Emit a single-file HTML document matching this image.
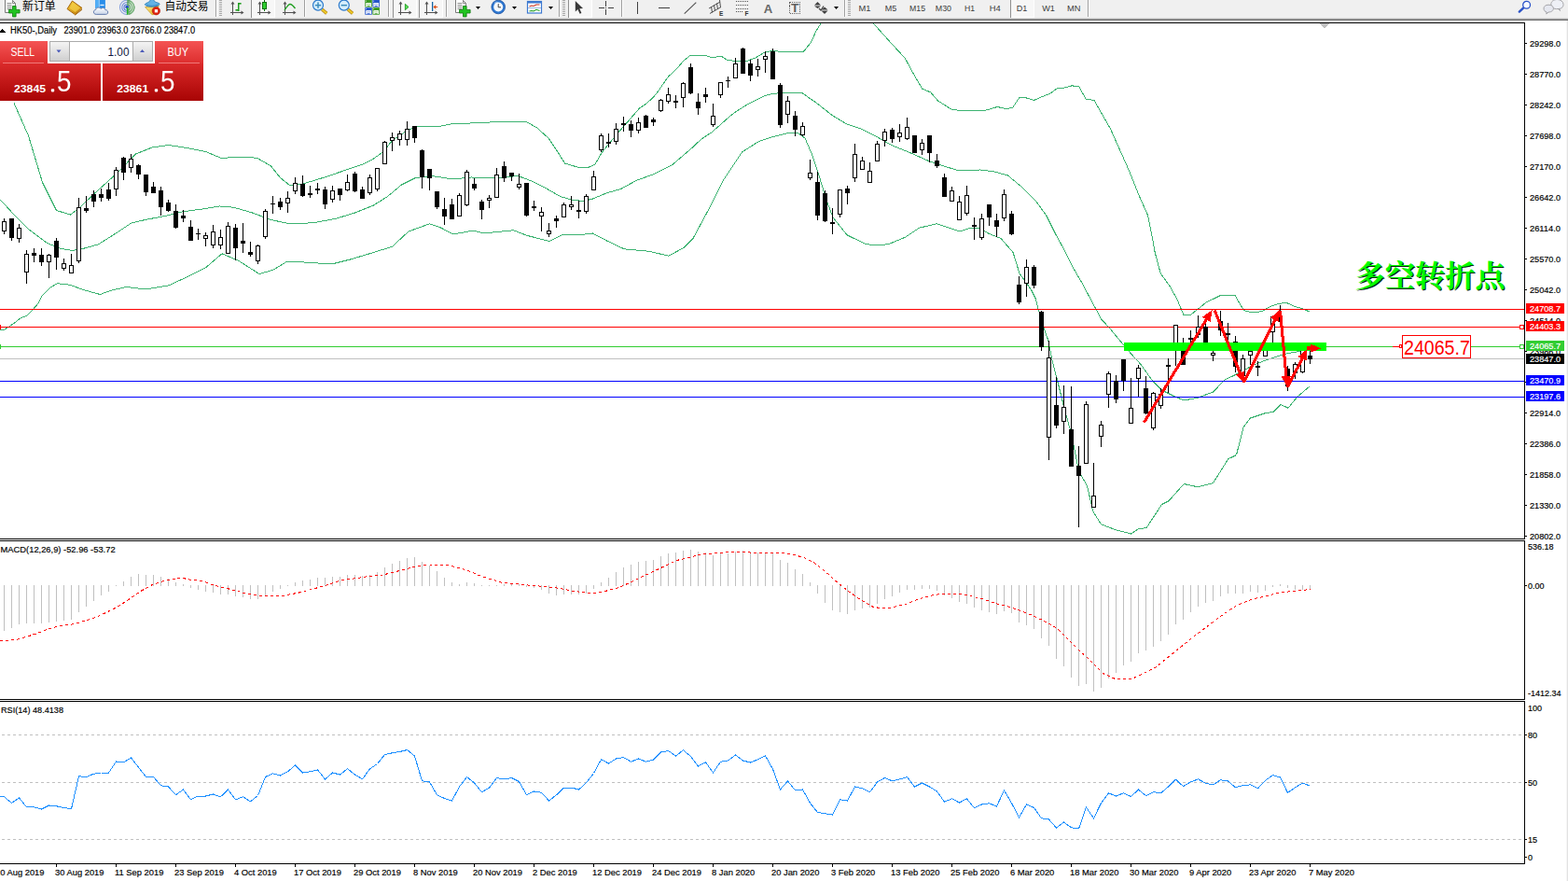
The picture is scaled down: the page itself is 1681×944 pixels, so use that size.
<!DOCTYPE html>
<html><head><meta charset="utf-8"><title>HK50 Daily</title>
<style>
html,body{margin:0;padding:0;background:#fff;overflow:hidden}
body{width:1681px;height:944px;position:relative;font-family:"Liberation Sans",sans-serif}
svg{position:absolute;left:0;top:0;display:block}
svg text{font-family:"Liberation Sans",sans-serif}
</style></head><body>
<svg width="1681" height="944" viewBox="0 0 1681 944" shape-rendering="crispEdges">
<rect x="0" y="0" width="1681" height="944" fill="#fff"/>
<defs><clipPath id="cm"><rect x="0" y="25" width="1634" height="552"/></clipPath></defs>
<g clip-path="url(#cm)">
<polyline points="15.0,110.5 30.5,145.5 45.5,195.5 60.5,225.5 75.5,230.0 85.0,223.0 100.5,208.0 125.5,185.5 145.5,165.0 163.0,158.0 180.5,155.5 200.5,158.5 220.5,162.5 236.5,169.2 263.0,168.5 275.5,169.2 290.5,178.0 300.5,190.5 310.5,198.5 325.5,196.8 350.5,189.2 375.5,180.5 390.5,175.5 400.5,170.0 410.5,163.0 420.5,150.5 435.5,140.5 445.5,136.0 470.5,135.5 483.0,133.0 525.5,131.0 564.2,130.5 575.5,136.8 588.0,148.0 598.0,163.0 605.5,175.0 620.5,179.5 630.5,179.5 638.0,176.0 645.5,163.0 649.2,158.5 663.0,141.8 673.0,130.5 680.5,121.8 685.5,116.1 691.8,111.8 699.2,105.5 705.5,98.0 710.5,90.5 716.8,81.8 721.8,77.4 726.8,72.4 731.8,66.1 735.5,63.0 740.5,59.0 744.9,59.0 746.8,59.9 758.0,59.9 764.2,62.0 769.2,60.8 774.2,60.8 780.5,64.9 789.2,65.1 794.2,66.1 800.1,65.7 810.5,61.7 819.8,56.1 826.3,54.8 841.4,55.2 841.5,55.8 861.0,55.8 869.5,45.4 874.7,33.6 881.0,23.5" fill="none" stroke="#3CB371" stroke-width="1"/>
<polyline points="935.0,23.5 942.8,32.3 954.6,45.4 970.3,62.4 979.5,79.4 988.6,95.1 997.8,99.0 1005.5,108.0 1020.5,117.5 1035.5,118.8 1055.5,118.5 1069.2,114.5 1078.0,116.5 1085.5,115.5 1093.0,104.2 1100.5,105.0 1108.5,107.5 1115.5,104.2 1125.5,100.5 1133.0,95.0 1140.5,94.2 1149.2,91.8 1156.8,93.0 1164.2,106.0 1173.0,107.5 1180.5,120.5 1190.5,138.0 1200.5,160.5 1210.5,183.0 1220.5,208.0 1230.5,230.5 1235.5,255.5 1238.2,270.5 1244.2,293.0 1254.2,306.8 1261.8,320.5 1269.2,338.0 1276.8,337.0 1283.0,332.2 1293.0,324.1 1308.0,316.8 1324.2,316.8 1330.5,327.9 1334.2,332.9 1343.0,335.0 1353.0,333.5 1363.0,327.9 1370.5,325.4 1379.2,324.4 1386.8,327.9 1396.8,331.0 1404.2,334.1" fill="none" stroke="#3CB371" stroke-width="1"/>
<polyline points="0.5,214.2 15.5,230.5 30.5,245.5 50.5,260.5 65.5,266.5 78.0,268.5 90.5,266.0 105.5,261.8 125.5,249.2 140.5,239.2 155.5,235.5 175.5,231.8 195.5,226.8 215.5,224.2 235.5,221.0 250.5,222.2 270.5,228.0 290.5,235.5 310.5,239.8 335.5,238.8 360.5,234.2 380.5,228.0 400.5,220.0 415.5,210.5 430.5,198.0 445.5,190.5 463.0,188.5 485.5,192.0 505.5,190.0 530.5,191.0 555.5,188.5 570.5,194.2 585.5,201.8 600.5,210.5 613.0,214.2 625.5,215.5 635.5,213.0 650.5,206.8 665.5,202.5 683.0,193.0 700.5,186.8 720.5,176.8 741.8,158.5 751.8,149.2 763.0,141.8 773.0,133.0 783.0,124.2 790.5,118.6 800.5,112.4 810.5,107.4 820.5,102.4 828.0,100.5 843.0,99.0 860.5,100.0 875.5,110.5 893.0,124.2 908.0,133.0 923.0,138.0 940.5,146.8 955.5,155.5 975.5,163.5 995.5,172.5 1010.5,177.5 1028.0,183.0 1050.5,182.0 1065.5,183.8 1080.5,188.0 1095.5,200.5 1110.5,215.5 1121.5,230.5 1131.5,250.5 1142.4,270.5 1150.5,286.8 1160.5,304.2 1170.5,323.0 1180.5,341.8 1189.2,351.1 1200.5,364.9 1211.1,377.4 1223.0,390.5 1235.5,408.0 1245.5,418.0 1258.0,424.2 1269.2,429.0 1284.2,426.2 1300.5,420.0 1313.0,407.0 1320.5,403.5 1330.5,398.5 1343.0,391.5 1355.5,386.5 1368.0,382.2 1380.5,378.5 1393.0,376.5 1404.2,374.1" fill="none" stroke="#3CB371" stroke-width="1"/>
<polyline points="0.5,354.0 3.5,353.9 9.4,350.2 15.3,346.1 22.0,340.9 29.4,337.9 33.2,333.9 40.5,325.7 45.0,317.1 53.9,308.2 61.3,303.7 74.7,305.2 89.5,310.5 107.3,315.5 119.2,311.1 135.5,307.5 155.5,310.0 180.5,306.0 200.5,296.8 220.5,286.8 238.0,271.8 255.5,279.2 278.0,293.5 293.0,289.2 308.0,280.0 325.5,281.0 355.5,283.0 375.5,278.0 400.5,270.5 420.5,264.2 438.0,248.0 460.5,239.8 473.0,244.2 485.5,251.0 508.0,247.0 518.0,250.0 550.5,246.8 565.5,252.5 589.2,258.5 604.2,251.0 620.5,251.8 635.5,250.0 650.5,258.0 669.2,266.8 695.5,269.2 716.8,274.2 733.0,265.5 743.0,255.5 760.5,223.0 775.5,193.0 795.5,163.0 813.0,151.8 828.0,146.8 843.0,143.0 855.5,142.5 863.0,148.0 870.5,165.5 878.0,188.0 885.5,213.0 893.0,233.0 908.0,251.8 928.0,261.5 940.5,263.0 953.0,261.5 970.5,254.2 985.5,244.2 1004.2,239.8 1018.0,244.2 1029.2,248.0 1040.5,244.2 1050.5,245.0 1060.5,250.5 1073.0,255.5 1086.1,270.5 1093.0,293.0 1105.5,310.5 1110.5,320.5 1113.6,333.0 1119.2,351.8 1123.6,364.2 1128.6,388.5 1133.0,405.5 1140.5,435.5 1148.0,463.0 1156.8,505.5 1165.5,520.5 1171.8,548.0 1180.5,561.8 1195.5,567.5 1212.5,572.0 1220.5,566.8 1229.2,565.5 1245.5,540.5 1253.0,536.8 1269.2,518.5 1284.2,521.8 1300.5,517.5 1316.8,491.8 1325.5,487.5 1333.0,458.0 1340.5,448.0 1355.5,443.0 1365.5,441.2 1373.0,433.5 1381.0,437.2 1390.5,425.5 1404.2,413.8" fill="none" stroke="#3CB371" stroke-width="1"/>
<rect x="0" y="384" width="1634" height="1" fill="#C0C0C0"/>
<rect x="0" y="331" width="1634" height="1" fill="#FF0000"/>
<rect x="0" y="350" width="1634" height="1" fill="#FF0000"/>
<rect x="0" y="371" width="1634" height="1" fill="#32CD32"/>
<rect x="0" y="408" width="1634" height="1" fill="#0000FF"/>
<rect x="0" y="425" width="1634" height="1" fill="#0000FF"/>
<rect x="4" y="234" width="1" height="17" fill="#000"/>
<rect x="2.5" y="237.5" width="4" height="10" fill="#fff" stroke="#000" stroke-width="1"/>
<rect x="12" y="234" width="1" height="24" fill="#000"/>
<rect x="10" y="234" width="5" height="21" fill="#000"/>
<rect x="20" y="240" width="1" height="20" fill="#000"/>
<rect x="18.5" y="244.5" width="4" height="11" fill="#fff" stroke="#000" stroke-width="1"/>
<rect x="28" y="268" width="1" height="36" fill="#000"/>
<rect x="26.5" y="272.5" width="4" height="19" fill="#fff" stroke="#000" stroke-width="1"/>
<rect x="36" y="266" width="1" height="15" fill="#000"/>
<rect x="34" y="271" width="5" height="3" fill="#000"/>
<rect x="44" y="266" width="1" height="19" fill="#000"/>
<rect x="42" y="273" width="5" height="8" fill="#000"/>
<rect x="52" y="272" width="1" height="26" fill="#000"/>
<rect x="50.5" y="273.5" width="4" height="7" fill="#fff" stroke="#000" stroke-width="1"/>
<rect x="60" y="255" width="1" height="34" fill="#000"/>
<rect x="58" y="258" width="5" height="18" fill="#000"/>
<rect x="68" y="277" width="1" height="13" fill="#000"/>
<rect x="66.5" y="282.5" width="4" height="5" fill="#fff" stroke="#000" stroke-width="1"/>
<rect x="76" y="272" width="1" height="21" fill="#000"/>
<rect x="74.5" y="284.5" width="4" height="8" fill="#fff" stroke="#000" stroke-width="1"/>
<rect x="84" y="212" width="1" height="70" fill="#000"/>
<rect x="82.5" y="222.5" width="4" height="57" fill="#fff" stroke="#000" stroke-width="1"/>
<rect x="92" y="210" width="1" height="18" fill="#000"/>
<rect x="90" y="223" width="5" height="3" fill="#000"/>
<rect x="100" y="204" width="1" height="18" fill="#000"/>
<rect x="98" y="208" width="5" height="8" fill="#000"/>
<rect x="108" y="202" width="1" height="14" fill="#000"/>
<rect x="106" y="208" width="5" height="4" fill="#000"/>
<rect x="116" y="196" width="1" height="19" fill="#000"/>
<rect x="114" y="203" width="5" height="10" fill="#000"/>
<rect x="124" y="179" width="1" height="31" fill="#000"/>
<rect x="122.5" y="182.5" width="4" height="20" fill="#fff" stroke="#000" stroke-width="1"/>
<rect x="132" y="168" width="1" height="25" fill="#000"/>
<rect x="130" y="169" width="5" height="16" fill="#000"/>
<rect x="140" y="165" width="1" height="20" fill="#000"/>
<rect x="138.5" y="170.5" width="4" height="9" fill="#fff" stroke="#000" stroke-width="1"/>
<rect x="148" y="176" width="1" height="16" fill="#000"/>
<rect x="146" y="177" width="5" height="10" fill="#000"/>
<rect x="156" y="187" width="1" height="23" fill="#000"/>
<rect x="154" y="187" width="5" height="19" fill="#000"/>
<rect x="164" y="195" width="1" height="12" fill="#000"/>
<rect x="162" y="200" width="5" height="7" fill="#000"/>
<rect x="172" y="200" width="1" height="31" fill="#000"/>
<rect x="170" y="204" width="5" height="18" fill="#000"/>
<rect x="180" y="214" width="1" height="13" fill="#000"/>
<rect x="178" y="217" width="5" height="9" fill="#000"/>
<rect x="188" y="219" width="1" height="26" fill="#000"/>
<rect x="186" y="226" width="5" height="18" fill="#000"/>
<rect x="196" y="225" width="1" height="13" fill="#000"/>
<rect x="194" y="231" width="5" height="3" fill="#000"/>
<rect x="204" y="236" width="1" height="22" fill="#000"/>
<rect x="202" y="243" width="5" height="15" fill="#000"/>
<rect x="212" y="245" width="1" height="12" fill="#000"/>
<rect x="210" y="250" width="5" height="1" fill="#000"/>
<rect x="220" y="249" width="1" height="15" fill="#000"/>
<rect x="218.5" y="252.5" width="4" height="3" fill="#fff" stroke="#000" stroke-width="1"/>
<rect x="228" y="241" width="1" height="25" fill="#000"/>
<rect x="226.5" y="248.5" width="4" height="14" fill="#fff" stroke="#000" stroke-width="1"/>
<rect x="236" y="246" width="1" height="21" fill="#000"/>
<rect x="234.5" y="254.5" width="4" height="8" fill="#fff" stroke="#000" stroke-width="1"/>
<rect x="244" y="238" width="1" height="34" fill="#000"/>
<rect x="242.5" y="242.5" width="4" height="29" fill="#fff" stroke="#000" stroke-width="1"/>
<rect x="252" y="240" width="1" height="39" fill="#000"/>
<rect x="250" y="244" width="5" height="22" fill="#000"/>
<rect x="260" y="239" width="1" height="32" fill="#000"/>
<rect x="258" y="258" width="5" height="3" fill="#000"/>
<rect x="268" y="259" width="1" height="16" fill="#000"/>
<rect x="266" y="270" width="5" height="3" fill="#000"/>
<rect x="276" y="262" width="1" height="21" fill="#000"/>
<rect x="274.5" y="263.5" width="4" height="16" fill="#fff" stroke="#000" stroke-width="1"/>
<rect x="284" y="224" width="1" height="32" fill="#000"/>
<rect x="282.5" y="226.5" width="4" height="27" fill="#fff" stroke="#000" stroke-width="1"/>
<rect x="292" y="210" width="1" height="19" fill="#000"/>
<rect x="290" y="218" width="5" height="1" fill="#000"/>
<rect x="300" y="212" width="1" height="13" fill="#000"/>
<rect x="298" y="216" width="5" height="6" fill="#000"/>
<rect x="308" y="205" width="1" height="23" fill="#000"/>
<rect x="306.5" y="212.5" width="4" height="5" fill="#fff" stroke="#000" stroke-width="1"/>
<rect x="316" y="190" width="1" height="18" fill="#000"/>
<rect x="314.5" y="196.5" width="4" height="8" fill="#fff" stroke="#000" stroke-width="1"/>
<rect x="324" y="188" width="1" height="23" fill="#000"/>
<rect x="322" y="197" width="5" height="13" fill="#000"/>
<rect x="332" y="199" width="1" height="13" fill="#000"/>
<rect x="330" y="207" width="5" height="2" fill="#000"/>
<rect x="340" y="196" width="1" height="12" fill="#000"/>
<rect x="338" y="202" width="5" height="2" fill="#000"/>
<rect x="348" y="200" width="1" height="24" fill="#000"/>
<rect x="346" y="203" width="5" height="16" fill="#000"/>
<rect x="356" y="199" width="1" height="18" fill="#000"/>
<rect x="354.5" y="204.5" width="4" height="9" fill="#fff" stroke="#000" stroke-width="1"/>
<rect x="364" y="202" width="1" height="13" fill="#000"/>
<rect x="362" y="202" width="5" height="7" fill="#000"/>
<rect x="372" y="187" width="1" height="18" fill="#000"/>
<rect x="370.5" y="195.5" width="4" height="8" fill="#fff" stroke="#000" stroke-width="1"/>
<rect x="380" y="184" width="1" height="22" fill="#000"/>
<rect x="378" y="186" width="5" height="19" fill="#000"/>
<rect x="388" y="200" width="1" height="13" fill="#000"/>
<rect x="386" y="203" width="5" height="10" fill="#000"/>
<rect x="396" y="187" width="1" height="22" fill="#000"/>
<rect x="394.5" y="190.5" width="4" height="16" fill="#fff" stroke="#000" stroke-width="1"/>
<rect x="404" y="180" width="1" height="25" fill="#000"/>
<rect x="402.5" y="180.5" width="4" height="22" fill="#fff" stroke="#000" stroke-width="1"/>
<rect x="412" y="151" width="1" height="25" fill="#000"/>
<rect x="410.5" y="152.5" width="4" height="23" fill="#fff" stroke="#000" stroke-width="1"/>
<rect x="420" y="142" width="1" height="20" fill="#000"/>
<rect x="418.5" y="147.5" width="4" height="3" fill="#fff" stroke="#000" stroke-width="1"/>
<rect x="428" y="140" width="1" height="16" fill="#000"/>
<rect x="426.5" y="143.5" width="4" height="6" fill="#fff" stroke="#000" stroke-width="1"/>
<rect x="436" y="130" width="1" height="26" fill="#000"/>
<rect x="434.5" y="138.5" width="4" height="11" fill="#fff" stroke="#000" stroke-width="1"/>
<rect x="444" y="135" width="1" height="18" fill="#000"/>
<rect x="442" y="135" width="5" height="13" fill="#000"/>
<rect x="452" y="160" width="1" height="42" fill="#000"/>
<rect x="450" y="161" width="5" height="29" fill="#000"/>
<rect x="460" y="181" width="1" height="23" fill="#000"/>
<rect x="458" y="181" width="5" height="10" fill="#000"/>
<rect x="468" y="205" width="1" height="19" fill="#000"/>
<rect x="466" y="205" width="5" height="17" fill="#000"/>
<rect x="476" y="212" width="1" height="29" fill="#000"/>
<rect x="474" y="224" width="5" height="8" fill="#000"/>
<rect x="484" y="213" width="1" height="22" fill="#000"/>
<rect x="482" y="219" width="5" height="16" fill="#000"/>
<rect x="492" y="207" width="1" height="25" fill="#000"/>
<rect x="490.5" y="209.5" width="4" height="22" fill="#fff" stroke="#000" stroke-width="1"/>
<rect x="500" y="182" width="1" height="39" fill="#000"/>
<rect x="498.5" y="184.5" width="4" height="35" fill="#fff" stroke="#000" stroke-width="1"/>
<rect x="508" y="191" width="1" height="13" fill="#000"/>
<rect x="506" y="197" width="5" height="5" fill="#000"/>
<rect x="516" y="214" width="1" height="21" fill="#000"/>
<rect x="514" y="216" width="5" height="9" fill="#000"/>
<rect x="524" y="209" width="1" height="14" fill="#000"/>
<rect x="522.5" y="212.5" width="4" height="2" fill="#fff" stroke="#000" stroke-width="1"/>
<rect x="532" y="180" width="1" height="32" fill="#000"/>
<rect x="530.5" y="187.5" width="4" height="24" fill="#fff" stroke="#000" stroke-width="1"/>
<rect x="540" y="173" width="1" height="22" fill="#000"/>
<rect x="538" y="178" width="5" height="13" fill="#000"/>
<rect x="548" y="185" width="1" height="9" fill="#000"/>
<rect x="546" y="185" width="5" height="4" fill="#000"/>
<rect x="556" y="186" width="1" height="17" fill="#000"/>
<rect x="554.5" y="197.5" width="4" height="3" fill="#fff" stroke="#000" stroke-width="1"/>
<rect x="564" y="196" width="1" height="36" fill="#000"/>
<rect x="562" y="196" width="5" height="35" fill="#000"/>
<rect x="572" y="215" width="1" height="11" fill="#000"/>
<rect x="570" y="221" width="5" height="2" fill="#000"/>
<rect x="580" y="222" width="1" height="26" fill="#000"/>
<rect x="578.5" y="227.5" width="4" height="4" fill="#fff" stroke="#000" stroke-width="1"/>
<rect x="588" y="239" width="1" height="15" fill="#000"/>
<rect x="586.5" y="247.5" width="4" height="3" fill="#fff" stroke="#000" stroke-width="1"/>
<rect x="596" y="231" width="1" height="13" fill="#000"/>
<rect x="594" y="234" width="5" height="3" fill="#000"/>
<rect x="604" y="217" width="1" height="16" fill="#000"/>
<rect x="602.5" y="219.5" width="4" height="13" fill="#fff" stroke="#000" stroke-width="1"/>
<rect x="612" y="210" width="1" height="15" fill="#000"/>
<rect x="610.5" y="219.5" width="4" height="2" fill="#fff" stroke="#000" stroke-width="1"/>
<rect x="620" y="215" width="1" height="19" fill="#000"/>
<rect x="618" y="225" width="5" height="2" fill="#000"/>
<rect x="628" y="208" width="1" height="21" fill="#000"/>
<rect x="626.5" y="210.5" width="4" height="16" fill="#fff" stroke="#000" stroke-width="1"/>
<rect x="636" y="183" width="1" height="21" fill="#000"/>
<rect x="634.5" y="189.5" width="4" height="14" fill="#fff" stroke="#000" stroke-width="1"/>
<rect x="644" y="143" width="1" height="20" fill="#000"/>
<rect x="642.5" y="145.5" width="4" height="15" fill="#fff" stroke="#000" stroke-width="1"/>
<rect x="652" y="143" width="1" height="15" fill="#000"/>
<rect x="650" y="152" width="5" height="2" fill="#000"/>
<rect x="660" y="132" width="1" height="23" fill="#000"/>
<rect x="658.5" y="138.5" width="4" height="13" fill="#fff" stroke="#000" stroke-width="1"/>
<rect x="668" y="125" width="1" height="16" fill="#000"/>
<rect x="666" y="132" width="5" height="2" fill="#000"/>
<rect x="676" y="129" width="1" height="18" fill="#000"/>
<rect x="674" y="133" width="5" height="7" fill="#000"/>
<rect x="684" y="126" width="1" height="17" fill="#000"/>
<rect x="682.5" y="131.5" width="4" height="8" fill="#fff" stroke="#000" stroke-width="1"/>
<rect x="692" y="123" width="1" height="14" fill="#000"/>
<rect x="690" y="124" width="5" height="13" fill="#000"/>
<rect x="700" y="126" width="1" height="9" fill="#000"/>
<rect x="698" y="128" width="5" height="3" fill="#000"/>
<rect x="708" y="106" width="1" height="14" fill="#000"/>
<rect x="706.5" y="107.5" width="4" height="11" fill="#fff" stroke="#000" stroke-width="1"/>
<rect x="716" y="94" width="1" height="17" fill="#000"/>
<rect x="714.5" y="101.5" width="4" height="7" fill="#fff" stroke="#000" stroke-width="1"/>
<rect x="724" y="102" width="1" height="14" fill="#000"/>
<rect x="722" y="108" width="5" height="2" fill="#000"/>
<rect x="732" y="88" width="1" height="27" fill="#000"/>
<rect x="730.5" y="89.5" width="4" height="15" fill="#fff" stroke="#000" stroke-width="1"/>
<rect x="740" y="68" width="1" height="33" fill="#000"/>
<rect x="738" y="72" width="5" height="28" fill="#000"/>
<rect x="748" y="100" width="1" height="23" fill="#000"/>
<rect x="746" y="109" width="5" height="7" fill="#000"/>
<rect x="756" y="94" width="1" height="16" fill="#000"/>
<rect x="754" y="101" width="5" height="3" fill="#000"/>
<rect x="764" y="111" width="1" height="25" fill="#000"/>
<rect x="762.5" y="124.5" width="4" height="9" fill="#fff" stroke="#000" stroke-width="1"/>
<rect x="772" y="88" width="1" height="17" fill="#000"/>
<rect x="770.5" y="88.5" width="4" height="13" fill="#fff" stroke="#000" stroke-width="1"/>
<rect x="780" y="82" width="1" height="12" fill="#000"/>
<rect x="778" y="86" width="5" height="1" fill="#000"/>
<rect x="788" y="62" width="1" height="22" fill="#000"/>
<rect x="786.5" y="68.5" width="4" height="15" fill="#fff" stroke="#000" stroke-width="1"/>
<rect x="796" y="51" width="1" height="28" fill="#000"/>
<rect x="794" y="52" width="5" height="27" fill="#000"/>
<rect x="804" y="64" width="1" height="23" fill="#000"/>
<rect x="802" y="68" width="5" height="13" fill="#000"/>
<rect x="812" y="63" width="1" height="19" fill="#000"/>
<rect x="810.5" y="71.5" width="4" height="3" fill="#fff" stroke="#000" stroke-width="1"/>
<rect x="820" y="55" width="1" height="23" fill="#000"/>
<rect x="818.5" y="60.5" width="4" height="3" fill="#fff" stroke="#000" stroke-width="1"/>
<rect x="828" y="52" width="1" height="33" fill="#000"/>
<rect x="826" y="55" width="5" height="30" fill="#000"/>
<rect x="836" y="89" width="1" height="48" fill="#000"/>
<rect x="834" y="91" width="5" height="43" fill="#000"/>
<rect x="844" y="103" width="1" height="29" fill="#000"/>
<rect x="842.5" y="108.5" width="4" height="14" fill="#fff" stroke="#000" stroke-width="1"/>
<rect x="852" y="119" width="1" height="27" fill="#000"/>
<rect x="850" y="124" width="5" height="15" fill="#000"/>
<rect x="860" y="131" width="1" height="15" fill="#000"/>
<rect x="858.5" y="135.5" width="4" height="9" fill="#fff" stroke="#000" stroke-width="1"/>
<rect x="868" y="171" width="1" height="22" fill="#000"/>
<rect x="866.5" y="185.5" width="4" height="5" fill="#fff" stroke="#000" stroke-width="1"/>
<rect x="876" y="184" width="1" height="52" fill="#000"/>
<rect x="874" y="195" width="5" height="36" fill="#000"/>
<rect x="884" y="204" width="1" height="34" fill="#000"/>
<rect x="882" y="207" width="5" height="30" fill="#000"/>
<rect x="892" y="223" width="1" height="28" fill="#000"/>
<rect x="890" y="238" width="5" height="2" fill="#000"/>
<rect x="900" y="203" width="1" height="30" fill="#000"/>
<rect x="898.5" y="203.5" width="4" height="26" fill="#fff" stroke="#000" stroke-width="1"/>
<rect x="908" y="199" width="1" height="20" fill="#000"/>
<rect x="906" y="202" width="5" height="5" fill="#000"/>
<rect x="916" y="154" width="1" height="41" fill="#000"/>
<rect x="914.5" y="165.5" width="4" height="25" fill="#fff" stroke="#000" stroke-width="1"/>
<rect x="924" y="168" width="1" height="14" fill="#000"/>
<rect x="922.5" y="172.5" width="4" height="9" fill="#fff" stroke="#000" stroke-width="1"/>
<rect x="932" y="174" width="1" height="22" fill="#000"/>
<rect x="930.5" y="183.5" width="4" height="12" fill="#fff" stroke="#000" stroke-width="1"/>
<rect x="940" y="151" width="1" height="22" fill="#000"/>
<rect x="938.5" y="154.5" width="4" height="18" fill="#fff" stroke="#000" stroke-width="1"/>
<rect x="948" y="138" width="1" height="19" fill="#000"/>
<rect x="946.5" y="141.5" width="4" height="9" fill="#fff" stroke="#000" stroke-width="1"/>
<rect x="956" y="137" width="1" height="16" fill="#000"/>
<rect x="954" y="139" width="5" height="10" fill="#000"/>
<rect x="964" y="133" width="1" height="19" fill="#000"/>
<rect x="962.5" y="142.5" width="4" height="4" fill="#fff" stroke="#000" stroke-width="1"/>
<rect x="972" y="126" width="1" height="24" fill="#000"/>
<rect x="970.5" y="136.5" width="4" height="12" fill="#fff" stroke="#000" stroke-width="1"/>
<rect x="980" y="145" width="1" height="19" fill="#000"/>
<rect x="978" y="145" width="5" height="19" fill="#000"/>
<rect x="988" y="149" width="1" height="17" fill="#000"/>
<rect x="986.5" y="153.5" width="4" height="7" fill="#fff" stroke="#000" stroke-width="1"/>
<rect x="996" y="145" width="1" height="29" fill="#000"/>
<rect x="994" y="145" width="5" height="19" fill="#000"/>
<rect x="1004" y="165" width="1" height="15" fill="#000"/>
<rect x="1002" y="172" width="5" height="6" fill="#000"/>
<rect x="1012" y="186" width="1" height="25" fill="#000"/>
<rect x="1010" y="190" width="5" height="21" fill="#000"/>
<rect x="1020" y="200" width="1" height="16" fill="#000"/>
<rect x="1018.5" y="204.5" width="4" height="11" fill="#fff" stroke="#000" stroke-width="1"/>
<rect x="1028" y="210" width="1" height="26" fill="#000"/>
<rect x="1026.5" y="216.5" width="4" height="19" fill="#fff" stroke="#000" stroke-width="1"/>
<rect x="1036" y="199" width="1" height="32" fill="#000"/>
<rect x="1034.5" y="209.5" width="4" height="19" fill="#fff" stroke="#000" stroke-width="1"/>
<rect x="1044" y="233" width="1" height="24" fill="#000"/>
<rect x="1042" y="241" width="5" height="2" fill="#000"/>
<rect x="1052" y="229" width="1" height="28" fill="#000"/>
<rect x="1050.5" y="234.5" width="4" height="20" fill="#fff" stroke="#000" stroke-width="1"/>
<rect x="1060" y="219" width="1" height="23" fill="#000"/>
<rect x="1058" y="219" width="5" height="14" fill="#000"/>
<rect x="1068" y="229" width="1" height="25" fill="#000"/>
<rect x="1066" y="236" width="5" height="7" fill="#000"/>
<rect x="1076" y="203" width="1" height="34" fill="#000"/>
<rect x="1074.5" y="208.5" width="4" height="25" fill="#fff" stroke="#000" stroke-width="1"/>
<rect x="1084" y="226" width="1" height="26" fill="#000"/>
<rect x="1082" y="229" width="5" height="22" fill="#000"/>
<rect x="1092" y="296" width="1" height="30" fill="#000"/>
<rect x="1090" y="305" width="5" height="19" fill="#000"/>
<rect x="1100" y="278" width="1" height="40" fill="#000"/>
<rect x="1098.5" y="286.5" width="4" height="17" fill="#fff" stroke="#000" stroke-width="1"/>
<rect x="1108" y="284" width="1" height="25" fill="#000"/>
<rect x="1106" y="286" width="5" height="20" fill="#000"/>
<rect x="1116" y="333" width="1" height="43" fill="#000"/>
<rect x="1114" y="334" width="5" height="38" fill="#000"/>
<rect x="1124" y="365" width="1" height="128" fill="#000"/>
<rect x="1122.5" y="383.5" width="4" height="85" fill="#fff" stroke="#000" stroke-width="1"/>
<rect x="1132" y="404" width="1" height="55" fill="#000"/>
<rect x="1130" y="434" width="5" height="22" fill="#000"/>
<rect x="1140" y="413" width="1" height="52" fill="#000"/>
<rect x="1138.5" y="436.5" width="4" height="15" fill="#fff" stroke="#000" stroke-width="1"/>
<rect x="1148" y="414" width="1" height="86" fill="#000"/>
<rect x="1146" y="460" width="5" height="40" fill="#000"/>
<rect x="1156" y="478" width="1" height="87" fill="#000"/>
<rect x="1154" y="499" width="5" height="11" fill="#000"/>
<rect x="1164" y="430" width="1" height="67" fill="#000"/>
<rect x="1162.5" y="433.5" width="4" height="63" fill="#fff" stroke="#000" stroke-width="1"/>
<rect x="1172" y="496" width="1" height="48" fill="#000"/>
<rect x="1170.5" y="531.5" width="4" height="12" fill="#fff" stroke="#000" stroke-width="1"/>
<rect x="1180" y="451" width="1" height="28" fill="#000"/>
<rect x="1178.5" y="455.5" width="4" height="12" fill="#fff" stroke="#000" stroke-width="1"/>
<rect x="1188" y="398" width="1" height="39" fill="#000"/>
<rect x="1186.5" y="400.5" width="4" height="22" fill="#fff" stroke="#000" stroke-width="1"/>
<rect x="1196" y="402" width="1" height="30" fill="#000"/>
<rect x="1194" y="408" width="5" height="20" fill="#000"/>
<rect x="1204" y="385" width="1" height="34" fill="#000"/>
<rect x="1202" y="385" width="5" height="23" fill="#000"/>
<rect x="1212" y="405" width="1" height="49" fill="#000"/>
<rect x="1210.5" y="437.5" width="4" height="16" fill="#fff" stroke="#000" stroke-width="1"/>
<rect x="1220" y="391" width="1" height="34" fill="#000"/>
<rect x="1218.5" y="394.5" width="4" height="11" fill="#fff" stroke="#000" stroke-width="1"/>
<rect x="1228" y="403" width="1" height="41" fill="#000"/>
<rect x="1226" y="416" width="5" height="27" fill="#000"/>
<rect x="1236" y="420" width="1" height="41" fill="#000"/>
<rect x="1234.5" y="421.5" width="4" height="37" fill="#fff" stroke="#000" stroke-width="1"/>
<rect x="1244" y="416" width="1" height="22" fill="#000"/>
<rect x="1242.5" y="422.5" width="4" height="12" fill="#fff" stroke="#000" stroke-width="1"/>
<rect x="1252" y="384" width="1" height="37" fill="#000"/>
<rect x="1250" y="391" width="5" height="2" fill="#000"/>
<rect x="1260" y="348" width="1" height="44" fill="#000"/>
<rect x="1258.5" y="348.5" width="4" height="23" fill="#fff" stroke="#000" stroke-width="1"/>
<rect x="1268" y="362" width="1" height="29" fill="#000"/>
<rect x="1266" y="370" width="5" height="21" fill="#000"/>
<rect x="1276" y="354" width="1" height="18" fill="#000"/>
<rect x="1274" y="362" width="5" height="2" fill="#000"/>
<rect x="1284" y="338" width="1" height="24" fill="#000"/>
<rect x="1282.5" y="350.5" width="4" height="8" fill="#fff" stroke="#000" stroke-width="1"/>
<rect x="1292" y="346" width="1" height="24" fill="#000"/>
<rect x="1290" y="350" width="5" height="20" fill="#000"/>
<rect x="1300" y="376" width="1" height="11" fill="#000"/>
<rect x="1298.5" y="378.5" width="4" height="2" fill="#fff" stroke="#000" stroke-width="1"/>
<rect x="1308" y="333" width="1" height="27" fill="#000"/>
<rect x="1306" y="344" width="5" height="10" fill="#000"/>
<rect x="1316" y="346" width="1" height="22" fill="#000"/>
<rect x="1314" y="357" width="5" height="2" fill="#000"/>
<rect x="1324" y="360" width="1" height="39" fill="#000"/>
<rect x="1322" y="366" width="5" height="27" fill="#000"/>
<rect x="1332" y="380" width="1" height="23" fill="#000"/>
<rect x="1330.5" y="384.5" width="4" height="18" fill="#fff" stroke="#000" stroke-width="1"/>
<rect x="1340" y="375" width="1" height="16" fill="#000"/>
<rect x="1338.5" y="376.5" width="4" height="4" fill="#fff" stroke="#000" stroke-width="1"/>
<rect x="1348" y="387" width="1" height="16" fill="#000"/>
<rect x="1346" y="392" width="5" height="2" fill="#000"/>
<rect x="1356" y="364" width="1" height="18" fill="#000"/>
<rect x="1354.5" y="371.5" width="4" height="10" fill="#fff" stroke="#000" stroke-width="1"/>
<rect x="1364" y="339" width="1" height="28" fill="#000"/>
<rect x="1362.5" y="339.5" width="4" height="16" fill="#fff" stroke="#000" stroke-width="1"/>
<rect x="1372" y="327" width="1" height="18" fill="#000"/>
<rect x="1370" y="338" width="5" height="7" fill="#000"/>
<rect x="1380" y="392" width="1" height="27" fill="#000"/>
<rect x="1378" y="395" width="5" height="19" fill="#000"/>
<rect x="1388" y="388" width="1" height="18" fill="#000"/>
<rect x="1386.5" y="390.5" width="4" height="9" fill="#fff" stroke="#000" stroke-width="1"/>
<rect x="1396" y="372" width="1" height="28" fill="#000"/>
<rect x="1394.5" y="373.5" width="4" height="25" fill="#fff" stroke="#000" stroke-width="1"/>
<rect x="1404" y="376" width="1" height="14" fill="#000"/>
<rect x="1402" y="381" width="5" height="4" fill="#000"/>
<rect x="0" y="348" width="1" height="5" fill="#FF0000"/><rect x="0" y="369" width="1" height="5" fill="#32CD32"/>
<rect x="1205" y="367" width="217" height="9" fill="#00FF00"/>
<line x1="1226.5" y1="452.6" x2="1294.4" y2="340.6" stroke="#FF0000" stroke-width="3.1"/>
<polygon points="1299.6,332.0 1297.7,344.9 1289.1,339.7" fill="#FF0000"/>
<line x1="1302.2" y1="332.6" x2="1330.1" y2="401.2" stroke="#FF0000" stroke-width="3.1"/>
<polygon points="1333.9,410.5 1324.7,401.3 1334.0,397.5" fill="#FF0000"/>
<line x1="1333.5" y1="410.0" x2="1367.6" y2="341.0" stroke="#FF0000" stroke-width="3.1"/>
<polygon points="1372.0,332.0 1371.2,345.0 1362.2,340.5" fill="#FF0000"/>
<line x1="1372.5" y1="333.0" x2="1379.1" y2="405.0" stroke="#FF0000" stroke-width="3.1"/>
<polygon points="1380.0,415.0 1373.9,403.5 1383.9,402.6" fill="#FF0000"/>
<line x1="1380.0" y1="415.0" x2="1396.9" y2="382.9" stroke="#FF0000" stroke-width="3.1"/>
<polygon points="1401.5,374.0 1400.4,386.9 1391.5,382.3" fill="#FF0000"/>
<line x1="1401.0" y1="373.0" x2="1407.0" y2="373.2" stroke="#FF0000" stroke-width="3.5"/>
<polygon points="1416.0,373.5 1404.9,377.7 1405.2,368.5" fill="#FF0000"/>
<rect x="1493" y="371" width="8" height="1" fill="#FF0000"/>
<rect x="1500.5" y="369.5" width="2" height="3" fill="#fff" stroke="#FF0000" stroke-width="1"/>
<rect x="1503.5" y="359.5" width="73" height="24" fill="#fff" stroke="#FF0000" stroke-width="1"/>
<text x="1505" y="380" font-size="22.4" fill="#FF0000" stroke="#FF0000" stroke-width="0" textLength="70.8" lengthAdjust="spacingAndGlyphs">24065.7</text>
<rect x="1629.5" y="348.5" width="4" height="4" fill="#fff" stroke="#FF0000" stroke-width="1"/>
<rect x="1629.5" y="369.5" width="4" height="4" fill="#fff" stroke="#32CD32" stroke-width="1"/>
<polygon points="1414,25 1425,25 1419.5,30.5" fill="#C0C0C0"/>
</g>
<g shape-rendering="auto">
<text x="1453.7" y="307.6" font-size="32.2" font-weight="bold" fill="#0a240a" textLength="161" lengthAdjust="spacingAndGlyphs" style="font-family:'Liberation Serif','Noto Serif CJK SC',serif">多空转折点</text>
<text x="1452.6" y="306.6" font-size="32.2" font-weight="bold" fill="#00FF00" textLength="161" lengthAdjust="spacingAndGlyphs" style="font-family:'Liberation Serif','Noto Serif CJK SC',serif">多空转折点</text>
</g>
<rect x="4" y="627" width="1" height="49" fill="#C0C0C0"/>
<rect x="12" y="627" width="1" height="46" fill="#C0C0C0"/>
<rect x="20" y="627" width="1" height="42" fill="#C0C0C0"/>
<rect x="28" y="627" width="1" height="41" fill="#C0C0C0"/>
<rect x="36" y="627" width="1" height="41" fill="#C0C0C0"/>
<rect x="44" y="627" width="1" height="41" fill="#C0C0C0"/>
<rect x="52" y="627" width="1" height="40" fill="#C0C0C0"/>
<rect x="60" y="627" width="1" height="39" fill="#C0C0C0"/>
<rect x="68" y="627" width="1" height="38" fill="#C0C0C0"/>
<rect x="76" y="627" width="1" height="37" fill="#C0C0C0"/>
<rect x="84" y="627" width="1" height="29" fill="#C0C0C0"/>
<rect x="92" y="627" width="1" height="23" fill="#C0C0C0"/>
<rect x="100" y="627" width="1" height="17" fill="#C0C0C0"/>
<rect x="108" y="627" width="1" height="11" fill="#C0C0C0"/>
<rect x="116" y="627" width="1" height="7" fill="#C0C0C0"/>
<rect x="124" y="627" width="1" height="1" fill="#C0C0C0"/>
<rect x="132" y="623" width="1" height="5" fill="#C0C0C0"/>
<rect x="140" y="618" width="1" height="10" fill="#C0C0C0"/>
<rect x="148" y="615" width="1" height="13" fill="#C0C0C0"/>
<rect x="156" y="616" width="1" height="12" fill="#C0C0C0"/>
<rect x="164" y="616" width="1" height="12" fill="#C0C0C0"/>
<rect x="172" y="618" width="1" height="10" fill="#C0C0C0"/>
<rect x="180" y="620" width="1" height="8" fill="#C0C0C0"/>
<rect x="188" y="624" width="1" height="4" fill="#C0C0C0"/>
<rect x="196" y="626" width="1" height="2" fill="#C0C0C0"/>
<rect x="204" y="627" width="1" height="3" fill="#C0C0C0"/>
<rect x="212" y="627" width="1" height="5" fill="#C0C0C0"/>
<rect x="220" y="627" width="1" height="7" fill="#C0C0C0"/>
<rect x="228" y="627" width="1" height="8" fill="#C0C0C0"/>
<rect x="236" y="627" width="1" height="10" fill="#C0C0C0"/>
<rect x="244" y="627" width="1" height="10" fill="#C0C0C0"/>
<rect x="252" y="627" width="1" height="12" fill="#C0C0C0"/>
<rect x="260" y="627" width="1" height="13" fill="#C0C0C0"/>
<rect x="268" y="627" width="1" height="15" fill="#C0C0C0"/>
<rect x="276" y="627" width="1" height="15" fill="#C0C0C0"/>
<rect x="284" y="627" width="1" height="11" fill="#C0C0C0"/>
<rect x="292" y="627" width="1" height="7" fill="#C0C0C0"/>
<rect x="300" y="627" width="1" height="4" fill="#C0C0C0"/>
<rect x="308" y="627" width="1" height="1" fill="#C0C0C0"/>
<rect x="316" y="624" width="1" height="4" fill="#C0C0C0"/>
<rect x="324" y="622" width="1" height="6" fill="#C0C0C0"/>
<rect x="332" y="621" width="1" height="7" fill="#C0C0C0"/>
<rect x="340" y="619" width="1" height="9" fill="#C0C0C0"/>
<rect x="348" y="619" width="1" height="9" fill="#C0C0C0"/>
<rect x="356" y="618" width="1" height="10" fill="#C0C0C0"/>
<rect x="364" y="618" width="1" height="10" fill="#C0C0C0"/>
<rect x="372" y="616" width="1" height="12" fill="#C0C0C0"/>
<rect x="380" y="616" width="1" height="12" fill="#C0C0C0"/>
<rect x="388" y="617" width="1" height="11" fill="#C0C0C0"/>
<rect x="396" y="616" width="1" height="12" fill="#C0C0C0"/>
<rect x="404" y="613" width="1" height="15" fill="#C0C0C0"/>
<rect x="412" y="608" width="1" height="20" fill="#C0C0C0"/>
<rect x="420" y="604" width="1" height="24" fill="#C0C0C0"/>
<rect x="428" y="601" width="1" height="27" fill="#C0C0C0"/>
<rect x="436" y="598" width="1" height="30" fill="#C0C0C0"/>
<rect x="444" y="597" width="1" height="31" fill="#C0C0C0"/>
<rect x="452" y="602" width="1" height="26" fill="#C0C0C0"/>
<rect x="460" y="606" width="1" height="22" fill="#C0C0C0"/>
<rect x="468" y="612" width="1" height="16" fill="#C0C0C0"/>
<rect x="476" y="619" width="1" height="9" fill="#C0C0C0"/>
<rect x="484" y="624" width="1" height="4" fill="#C0C0C0"/>
<rect x="492" y="626" width="1" height="2" fill="#C0C0C0"/>
<rect x="500" y="624" width="1" height="4" fill="#C0C0C0"/>
<rect x="508" y="625" width="1" height="3" fill="#C0C0C0"/>
<rect x="516" y="627" width="1" height="1" fill="#C0C0C0"/>
<rect x="524" y="627" width="1" height="1" fill="#C0C0C0"/>
<rect x="532" y="627" width="1" height="1" fill="#C0C0C0"/>
<rect x="540" y="626" width="1" height="2" fill="#C0C0C0"/>
<rect x="548" y="625" width="1" height="3" fill="#C0C0C0"/>
<rect x="556" y="626" width="1" height="2" fill="#C0C0C0"/>
<rect x="564" y="627" width="1" height="2" fill="#C0C0C0"/>
<rect x="572" y="627" width="1" height="3" fill="#C0C0C0"/>
<rect x="580" y="627" width="1" height="5" fill="#C0C0C0"/>
<rect x="588" y="627" width="1" height="9" fill="#C0C0C0"/>
<rect x="596" y="627" width="1" height="11" fill="#C0C0C0"/>
<rect x="604" y="627" width="1" height="10" fill="#C0C0C0"/>
<rect x="612" y="627" width="1" height="10" fill="#C0C0C0"/>
<rect x="620" y="627" width="1" height="10" fill="#C0C0C0"/>
<rect x="628" y="627" width="1" height="9" fill="#C0C0C0"/>
<rect x="636" y="627" width="1" height="4" fill="#C0C0C0"/>
<rect x="644" y="624" width="1" height="4" fill="#C0C0C0"/>
<rect x="652" y="619" width="1" height="9" fill="#C0C0C0"/>
<rect x="660" y="613" width="1" height="15" fill="#C0C0C0"/>
<rect x="668" y="608" width="1" height="20" fill="#C0C0C0"/>
<rect x="676" y="605" width="1" height="23" fill="#C0C0C0"/>
<rect x="684" y="602" width="1" height="26" fill="#C0C0C0"/>
<rect x="692" y="601" width="1" height="27" fill="#C0C0C0"/>
<rect x="700" y="600" width="1" height="28" fill="#C0C0C0"/>
<rect x="708" y="596" width="1" height="32" fill="#C0C0C0"/>
<rect x="716" y="593" width="1" height="35" fill="#C0C0C0"/>
<rect x="724" y="592" width="1" height="36" fill="#C0C0C0"/>
<rect x="732" y="590" width="1" height="38" fill="#C0C0C0"/>
<rect x="740" y="589" width="1" height="39" fill="#C0C0C0"/>
<rect x="748" y="591" width="1" height="37" fill="#C0C0C0"/>
<rect x="756" y="592" width="1" height="36" fill="#C0C0C0"/>
<rect x="764" y="595" width="1" height="33" fill="#C0C0C0"/>
<rect x="772" y="593" width="1" height="35" fill="#C0C0C0"/>
<rect x="780" y="593" width="1" height="35" fill="#C0C0C0"/>
<rect x="788" y="591" width="1" height="37" fill="#C0C0C0"/>
<rect x="796" y="590" width="1" height="38" fill="#C0C0C0"/>
<rect x="804" y="591" width="1" height="37" fill="#C0C0C0"/>
<rect x="812" y="592" width="1" height="36" fill="#C0C0C0"/>
<rect x="820" y="592" width="1" height="36" fill="#C0C0C0"/>
<rect x="828" y="593" width="1" height="35" fill="#C0C0C0"/>
<rect x="836" y="600" width="1" height="28" fill="#C0C0C0"/>
<rect x="844" y="603" width="1" height="25" fill="#C0C0C0"/>
<rect x="852" y="610" width="1" height="18" fill="#C0C0C0"/>
<rect x="860" y="615" width="1" height="13" fill="#C0C0C0"/>
<rect x="868" y="624" width="1" height="4" fill="#C0C0C0"/>
<rect x="876" y="627" width="1" height="9" fill="#C0C0C0"/>
<rect x="884" y="627" width="1" height="19" fill="#C0C0C0"/>
<rect x="892" y="627" width="1" height="27" fill="#C0C0C0"/>
<rect x="900" y="627" width="1" height="29" fill="#C0C0C0"/>
<rect x="908" y="627" width="1" height="31" fill="#C0C0C0"/>
<rect x="916" y="627" width="1" height="27" fill="#C0C0C0"/>
<rect x="924" y="627" width="1" height="25" fill="#C0C0C0"/>
<rect x="932" y="627" width="1" height="24" fill="#C0C0C0"/>
<rect x="940" y="627" width="1" height="20" fill="#C0C0C0"/>
<rect x="948" y="627" width="1" height="15" fill="#C0C0C0"/>
<rect x="956" y="627" width="1" height="12" fill="#C0C0C0"/>
<rect x="964" y="627" width="1" height="8" fill="#C0C0C0"/>
<rect x="972" y="627" width="1" height="5" fill="#C0C0C0"/>
<rect x="980" y="627" width="1" height="5" fill="#C0C0C0"/>
<rect x="988" y="627" width="1" height="4" fill="#C0C0C0"/>
<rect x="996" y="627" width="1" height="4" fill="#C0C0C0"/>
<rect x="1004" y="627" width="1" height="6" fill="#C0C0C0"/>
<rect x="1012" y="627" width="1" height="11" fill="#C0C0C0"/>
<rect x="1020" y="627" width="1" height="14" fill="#C0C0C0"/>
<rect x="1028" y="627" width="1" height="18" fill="#C0C0C0"/>
<rect x="1036" y="627" width="1" height="20" fill="#C0C0C0"/>
<rect x="1044" y="627" width="1" height="24" fill="#C0C0C0"/>
<rect x="1052" y="627" width="1" height="27" fill="#C0C0C0"/>
<rect x="1060" y="627" width="1" height="29" fill="#C0C0C0"/>
<rect x="1068" y="627" width="1" height="31" fill="#C0C0C0"/>
<rect x="1076" y="627" width="1" height="28" fill="#C0C0C0"/>
<rect x="1084" y="627" width="1" height="30" fill="#C0C0C0"/>
<rect x="1092" y="627" width="1" height="40" fill="#C0C0C0"/>
<rect x="1100" y="627" width="1" height="43" fill="#C0C0C0"/>
<rect x="1108" y="627" width="1" height="47" fill="#C0C0C0"/>
<rect x="1116" y="627" width="1" height="57" fill="#C0C0C0"/>
<rect x="1124" y="627" width="1" height="65" fill="#C0C0C0"/>
<rect x="1132" y="627" width="1" height="79" fill="#C0C0C0"/>
<rect x="1140" y="627" width="1" height="87" fill="#C0C0C0"/>
<rect x="1148" y="627" width="1" height="99" fill="#C0C0C0"/>
<rect x="1156" y="627" width="1" height="108" fill="#C0C0C0"/>
<rect x="1164" y="627" width="1" height="106" fill="#C0C0C0"/>
<rect x="1172" y="627" width="1" height="114" fill="#C0C0C0"/>
<rect x="1180" y="627" width="1" height="110" fill="#C0C0C0"/>
<rect x="1188" y="627" width="1" height="100" fill="#C0C0C0"/>
<rect x="1196" y="627" width="1" height="94" fill="#C0C0C0"/>
<rect x="1204" y="627" width="1" height="86" fill="#C0C0C0"/>
<rect x="1212" y="627" width="1" height="82" fill="#C0C0C0"/>
<rect x="1220" y="627" width="1" height="73" fill="#C0C0C0"/>
<rect x="1228" y="627" width="1" height="70" fill="#C0C0C0"/>
<rect x="1236" y="627" width="1" height="66" fill="#C0C0C0"/>
<rect x="1244" y="627" width="1" height="60" fill="#C0C0C0"/>
<rect x="1252" y="627" width="1" height="53" fill="#C0C0C0"/>
<rect x="1260" y="627" width="1" height="42" fill="#C0C0C0"/>
<rect x="1268" y="627" width="1" height="37" fill="#C0C0C0"/>
<rect x="1276" y="627" width="1" height="29" fill="#C0C0C0"/>
<rect x="1284" y="627" width="1" height="23" fill="#C0C0C0"/>
<rect x="1292" y="627" width="1" height="19" fill="#C0C0C0"/>
<rect x="1300" y="627" width="1" height="17" fill="#C0C0C0"/>
<rect x="1308" y="627" width="1" height="12" fill="#C0C0C0"/>
<rect x="1316" y="627" width="1" height="9" fill="#C0C0C0"/>
<rect x="1324" y="627" width="1" height="9" fill="#C0C0C0"/>
<rect x="1332" y="627" width="1" height="9" fill="#C0C0C0"/>
<rect x="1340" y="627" width="1" height="7" fill="#C0C0C0"/>
<rect x="1348" y="627" width="1" height="8" fill="#C0C0C0"/>
<rect x="1356" y="627" width="1" height="6" fill="#C0C0C0"/>
<rect x="1364" y="627" width="1" height="2" fill="#C0C0C0"/>
<rect x="1372" y="626" width="1" height="2" fill="#C0C0C0"/>
<rect x="1380" y="627" width="1" height="3" fill="#C0C0C0"/>
<rect x="1388" y="627" width="1" height="5" fill="#C0C0C0"/>
<rect x="1396" y="627" width="1" height="5" fill="#C0C0C0"/>
<rect x="1404" y="627" width="1" height="4" fill="#C0C0C0"/>
<polyline points="0.5,686.8 20.5,684.9 38.0,679.2 53.0,673.6 63.0,670.9 78.0,668.9 88.0,666.1 100.5,662.4 113.0,656.8 125.5,650.5 138.0,642.4 150.5,633.6 163.0,626.8 175.5,622.4 188.0,619.9 198.0,619.9 203.0,621.1 215.5,622.2 230.5,627.5 245.5,631.0 260.5,635.0 275.5,638.0 290.5,638.8 305.5,638.0 320.5,635.0 335.5,631.2 350.5,626.8 365.5,621.8 380.5,619.8 395.5,617.5 410.5,616.0 430.5,611.0 445.5,607.2 460.5,605.0 479.2,605.0 488.0,607.5 500.5,611.0 513.0,616.2 525.5,620.5 538.0,624.2 555.5,626.0 570.5,627.5 585.5,628.5 600.5,630.5 613.0,633.0 625.5,634.8 638.0,635.8 650.5,633.0 663.0,629.8 675.5,624.2 688.0,618.0 700.5,612.5 713.0,606.2 725.5,600.5 738.0,597.5 750.5,594.2 763.0,593.0 775.5,592.0 795.5,591.0 805.5,592.2 838.0,592.2 850.5,594.2 863.0,598.0 873.0,603.0 885.5,613.0 898.0,624.2 910.5,634.2 923.0,643.0 935.5,650.0 945.5,652.0 955.5,651.2 970.5,647.5 985.5,641.8 1000.5,637.5 1015.5,636.0 1030.5,636.0 1038.0,638.0 1053.0,641.8 1068.0,646.8 1083.0,650.5 1100.5,656.8 1115.5,663.5 1133.0,673.0 1145.5,685.5 1158.0,698.0 1170.5,709.2 1183.0,721.8 1195.5,727.5 1213.0,727.7 1223.4,722.7 1237.7,715.8 1252.0,704.4 1266.3,693.0 1283.5,679.2 1297.8,668.6 1312.1,657.8 1326.4,648.3 1340.7,642.6 1355.0,639.2 1372.2,634.9 1386.5,633.5 1405.1,631.5" fill="none" stroke="#FF0000" stroke-width="1" stroke-dasharray="3 3"/>
<line x1="2" y1="787.5" x2="1634" y2="787.5" stroke="#C0C0C0" stroke-width="1" stroke-dasharray="3 3"/>
<line x1="2" y1="838.5" x2="1634" y2="838.5" stroke="#C0C0C0" stroke-width="1" stroke-dasharray="3 3"/>
<line x1="2" y1="899.5" x2="1634" y2="899.5" stroke="#C0C0C0" stroke-width="1" stroke-dasharray="3 3"/>
<polyline points="-3.5,853.8 4.5,853.8 12.5,860.5 20.5,855.0 28.5,864.8 36.5,864.8 44.5,867.0 52.5,863.0 60.5,863.8 68.5,865.5 76.5,866.8 84.5,831.8 92.5,832.5 100.5,829.2 108.5,828.0 116.5,828.0 124.5,816.0 132.5,816.8 140.5,812.0 148.5,822.2 156.5,832.5 164.5,832.5 172.5,841.8 180.5,843.0 188.5,851.8 196.5,846.0 204.5,856.8 212.5,853.0 220.5,853.0 228.5,851.0 236.5,853.8 244.5,846.0 252.5,856.8 260.5,853.8 268.5,858.8 276.5,852.5 284.5,832.5 292.5,828.8 300.5,831.0 308.5,826.8 316.5,820.0 324.5,828.0 332.5,826.8 340.5,824.8 348.5,835.0 356.5,828.0 364.5,830.0 372.5,823.8 380.5,830.0 388.5,834.8 396.5,823.8 404.5,818.5 412.5,808.5 420.5,806.8 428.5,805.5 436.5,803.5 444.5,810.0 452.5,836.8 460.5,838.0 468.5,851.8 476.5,855.5 484.5,858.0 492.5,843.0 500.5,832.5 508.5,838.8 516.5,848.8 524.5,844.2 532.5,833.5 540.5,835.0 548.5,833.5 556.5,837.5 564.5,851.8 572.5,848.0 580.5,849.2 588.5,858.0 596.5,851.8 604.5,844.0 612.5,844.0 620.5,846.0 628.5,838.8 636.5,828.5 644.5,813.8 652.5,818.0 660.5,813.0 668.5,811.5 676.5,816.2 684.5,813.0 692.5,816.2 700.5,814.2 708.5,806.0 716.5,804.5 724.5,810.0 732.5,803.8 740.5,810.5 748.5,821.0 756.5,816.8 764.5,828.0 772.5,816.2 780.5,815.0 788.5,809.0 796.5,815.0 804.5,817.0 812.5,813.8 820.5,809.8 828.5,824.2 836.5,846.0 844.5,837.0 852.5,846.8 860.5,846.0 868.5,860.5 876.5,870.5 884.5,871.8 892.5,873.0 900.5,856.8 908.5,858.0 916.5,843.0 924.5,844.8 932.5,848.8 940.5,838.0 948.5,833.5 956.5,836.8 964.5,835.0 972.5,832.5 980.5,843.0 988.5,839.0 996.5,843.0 1004.5,848.0 1012.5,859.2 1020.5,855.8 1028.5,860.0 1036.5,855.8 1044.5,865.8 1052.5,862.0 1060.5,860.8 1068.5,864.0 1076.5,846.8 1084.5,860.5 1092.5,876.0 1100.5,861.8 1108.5,865.5 1116.5,876.8 1124.5,878.0 1132.5,887.0 1140.5,881.0 1148.5,886.8 1156.5,888.0 1164.5,865.0 1172.5,876.8 1180.5,860.5 1188.5,849.8 1196.5,853.0 1204.5,849.8 1212.5,853.5 1220.5,846.1 1228.5,852.6 1236.5,848.6 1244.5,849.8 1252.5,842.9 1260.5,835.2 1268.5,842.6 1276.5,837.8 1284.5,834.9 1292.5,839.2 1300.5,840.9 1308.5,835.8 1316.5,836.9 1324.5,843.8 1332.5,841.5 1340.5,840.9 1348.5,844.9 1356.5,836.3 1364.5,830.6 1372.5,832.9 1380.5,849.5 1388.5,843.8 1396.5,839.2 1404.5,842.1" fill="none" stroke="#1E90FF" stroke-width="1"/>
<rect x="0" y="24" width="1635" height="1" fill="#000"/>
<rect x="0" y="577" width="1635" height="1" fill="#000"/>
<rect x="1634" y="24" width="1" height="554" fill="#000"/>
<rect x="0" y="579" width="1635" height="1" fill="#000"/>
<rect x="0" y="749" width="1635" height="1" fill="#000"/>
<rect x="1634" y="579" width="1" height="171" fill="#000"/>
<rect x="0" y="751" width="1635" height="1" fill="#000"/>
<rect x="0" y="925" width="1635" height="1" fill="#000"/>
<rect x="1634" y="751" width="1" height="175" fill="#000"/>
<rect x="1635" y="46" width="2" height="1" fill="#000"/>
<text x="1640" y="50" font-size="9.6" fill="#000" stroke="#000" stroke-width="0.18" textLength="33" lengthAdjust="spacingAndGlyphs">29298.0</text>
<rect x="1635" y="79" width="2" height="1" fill="#000"/>
<text x="1640" y="83" font-size="9.6" fill="#000" stroke="#000" stroke-width="0.18" textLength="33" lengthAdjust="spacingAndGlyphs">28770.0</text>
<rect x="1635" y="112" width="2" height="1" fill="#000"/>
<text x="1640" y="116" font-size="9.6" fill="#000" stroke="#000" stroke-width="0.18" textLength="33" lengthAdjust="spacingAndGlyphs">28242.0</text>
<rect x="1635" y="145" width="2" height="1" fill="#000"/>
<text x="1640" y="149" font-size="9.6" fill="#000" stroke="#000" stroke-width="0.18" textLength="33" lengthAdjust="spacingAndGlyphs">27698.0</text>
<rect x="1635" y="178" width="2" height="1" fill="#000"/>
<text x="1640" y="182" font-size="9.6" fill="#000" stroke="#000" stroke-width="0.18" textLength="33" lengthAdjust="spacingAndGlyphs">27170.0</text>
<rect x="1635" y="211" width="2" height="1" fill="#000"/>
<text x="1640" y="215" font-size="9.6" fill="#000" stroke="#000" stroke-width="0.18" textLength="33" lengthAdjust="spacingAndGlyphs">26642.0</text>
<rect x="1635" y="244" width="2" height="1" fill="#000"/>
<text x="1640" y="248" font-size="9.6" fill="#000" stroke="#000" stroke-width="0.18" textLength="33" lengthAdjust="spacingAndGlyphs">26114.0</text>
<rect x="1635" y="277" width="2" height="1" fill="#000"/>
<text x="1640" y="281" font-size="9.6" fill="#000" stroke="#000" stroke-width="0.18" textLength="33" lengthAdjust="spacingAndGlyphs">25570.0</text>
<rect x="1635" y="310" width="2" height="1" fill="#000"/>
<text x="1640" y="314" font-size="9.6" fill="#000" stroke="#000" stroke-width="0.18" textLength="33" lengthAdjust="spacingAndGlyphs">25042.0</text>
<rect x="1635" y="343" width="2" height="1" fill="#000"/>
<text x="1640" y="347" font-size="9.6" fill="#000" stroke="#000" stroke-width="0.18" textLength="33" lengthAdjust="spacingAndGlyphs">24514.0</text>
<rect x="1635" y="376" width="2" height="1" fill="#000"/>
<text x="1640" y="380" font-size="9.6" fill="#000" stroke="#000" stroke-width="0.18" textLength="33" lengthAdjust="spacingAndGlyphs">23986.0</text>
<rect x="1635" y="409" width="2" height="1" fill="#000"/>
<rect x="1635" y="442" width="2" height="1" fill="#000"/>
<text x="1640" y="446" font-size="9.6" fill="#000" stroke="#000" stroke-width="0.18" textLength="33" lengthAdjust="spacingAndGlyphs">22914.0</text>
<rect x="1635" y="475" width="2" height="1" fill="#000"/>
<text x="1640" y="479" font-size="9.6" fill="#000" stroke="#000" stroke-width="0.18" textLength="33" lengthAdjust="spacingAndGlyphs">22386.0</text>
<rect x="1635" y="508" width="2" height="1" fill="#000"/>
<text x="1640" y="512" font-size="9.6" fill="#000" stroke="#000" stroke-width="0.18" textLength="33" lengthAdjust="spacingAndGlyphs">21858.0</text>
<rect x="1635" y="541" width="2" height="1" fill="#000"/>
<text x="1640" y="545" font-size="9.6" fill="#000" stroke="#000" stroke-width="0.18" textLength="33" lengthAdjust="spacingAndGlyphs">21330.0</text>
<rect x="1635" y="574" width="2" height="1" fill="#000"/>
<text x="1640" y="578" font-size="9.6" fill="#000" stroke="#000" stroke-width="0.18" textLength="33" lengthAdjust="spacingAndGlyphs">20802.0</text>
<rect x="1636" y="325" width="41" height="11" fill="#FF0000"/>
<text x="1640" y="334" font-size="9.6" fill="#fff" stroke="#fff" stroke-width="0.18" textLength="33" lengthAdjust="spacingAndGlyphs">24708.7</text>
<rect x="1636" y="344" width="41" height="11" fill="#FF0000"/>
<text x="1640" y="353" font-size="9.6" fill="#fff" stroke="#fff" stroke-width="0.18" textLength="33" lengthAdjust="spacingAndGlyphs">24403.3</text>
<rect x="1636" y="365" width="41" height="11" fill="#32CD32"/>
<text x="1640" y="374" font-size="9.6" fill="#fff" stroke="#fff" stroke-width="0.18" textLength="33" lengthAdjust="spacingAndGlyphs">24065.7</text>
<rect x="1636" y="379" width="41" height="11" fill="#000"/>
<text x="1640" y="388" font-size="9.6" fill="#fff" stroke="#fff" stroke-width="0.18" textLength="33" lengthAdjust="spacingAndGlyphs">23847.0</text>
<rect x="1636" y="402" width="41" height="11" fill="#0000FF"/>
<text x="1640" y="411" font-size="9.6" fill="#fff" stroke="#fff" stroke-width="0.18" textLength="33" lengthAdjust="spacingAndGlyphs">23470.9</text>
<rect x="1636" y="419" width="41" height="11" fill="#0000FF"/>
<text x="1640" y="428" font-size="9.6" fill="#fff" stroke="#fff" stroke-width="0.18" textLength="33" lengthAdjust="spacingAndGlyphs">23197.6</text>
<text transform="translate(1638,589.3) scale(0.94,1)" font-size="9.6" fill="#000" stroke="#000" stroke-width="0.18">536.18</text>
<rect x="1635" y="627" width="2" height="1" fill="#000"/>
<text transform="translate(1638,631) scale(0.94,1)" font-size="9.6" fill="#000" stroke="#000" stroke-width="0.18">0.00</text>
<text transform="translate(1638,745.5) scale(0.94,1)" font-size="9.6" fill="#000" stroke="#000" stroke-width="0.18">-1412.34</text>
<text transform="translate(1638,762) scale(0.94,1)" font-size="9.6" fill="#000" stroke="#000" stroke-width="0.18">100</text>
<rect x="1635" y="787" width="2" height="1" fill="#000"/>
<text transform="translate(1638,791) scale(0.94,1)" font-size="9.6" fill="#000" stroke="#000" stroke-width="0.18">80</text>
<rect x="1635" y="838" width="2" height="1" fill="#000"/>
<text transform="translate(1638,842) scale(0.94,1)" font-size="9.6" fill="#000" stroke="#000" stroke-width="0.18">50</text>
<rect x="1635" y="899" width="2" height="1" fill="#000"/>
<text transform="translate(1638,903) scale(0.94,1)" font-size="9.6" fill="#000" stroke="#000" stroke-width="0.18">15</text>
<rect x="1635" y="918" width="2" height="1" fill="#000"/>
<text transform="translate(1638,922) scale(0.94,1)" font-size="9.6" fill="#000" stroke="#000" stroke-width="0.18">0</text>
<text x="11" y="36" font-size="10" fill="#000" stroke="#000" stroke-width="0.18" textLength="50" lengthAdjust="spacingAndGlyphs">HK50-,Daily</text>
<text x="68.5" y="36" font-size="10" fill="#000" stroke="#000" stroke-width="0.18" textLength="140.5" lengthAdjust="spacingAndGlyphs">23901.0 23963.0 23766.0 23847.0</text>
<polygon points="-1,35 6,35 2.5,30.5" fill="#000"/>
<text x="0.6" y="592" font-size="9.6" fill="#000" stroke="#000" stroke-width="0.18" textLength="123" lengthAdjust="spacingAndGlyphs">MACD(12,26,9) -52.96 -53.72</text>
<text x="1" y="764" font-size="9.6" fill="#000" stroke="#000" stroke-width="0.18" textLength="67" lengthAdjust="spacingAndGlyphs">RSI(14) 48.4138</text>
<text transform="translate(-5,938) scale(0.975,1)" font-size="9.6" fill="#000" stroke="#000" stroke-width="0.18">20 Aug 2019</text>
<rect x="60" y="926" width="1" height="3" fill="#000"/>
<text transform="translate(59,938) scale(0.975,1)" font-size="9.6" fill="#000" stroke="#000" stroke-width="0.18">30 Aug 2019</text>
<rect x="124" y="926" width="1" height="3" fill="#000"/>
<text transform="translate(123,938) scale(0.975,1)" font-size="9.6" fill="#000" stroke="#000" stroke-width="0.18">11 Sep 2019</text>
<rect x="188" y="926" width="1" height="3" fill="#000"/>
<text transform="translate(187,938) scale(0.975,1)" font-size="9.6" fill="#000" stroke="#000" stroke-width="0.18">23 Sep 2019</text>
<rect x="252" y="926" width="1" height="3" fill="#000"/>
<text transform="translate(251,938) scale(0.975,1)" font-size="9.6" fill="#000" stroke="#000" stroke-width="0.18">4 Oct 2019</text>
<rect x="316" y="926" width="1" height="3" fill="#000"/>
<text transform="translate(315,938) scale(0.975,1)" font-size="9.6" fill="#000" stroke="#000" stroke-width="0.18">17 Oct 2019</text>
<rect x="380" y="926" width="1" height="3" fill="#000"/>
<text transform="translate(379,938) scale(0.975,1)" font-size="9.6" fill="#000" stroke="#000" stroke-width="0.18">29 Oct 2019</text>
<rect x="444" y="926" width="1" height="3" fill="#000"/>
<text transform="translate(443,938) scale(0.975,1)" font-size="9.6" fill="#000" stroke="#000" stroke-width="0.18">8 Nov 2019</text>
<rect x="508" y="926" width="1" height="3" fill="#000"/>
<text transform="translate(507,938) scale(0.975,1)" font-size="9.6" fill="#000" stroke="#000" stroke-width="0.18">20 Nov 2019</text>
<rect x="572" y="926" width="1" height="3" fill="#000"/>
<text transform="translate(571,938) scale(0.975,1)" font-size="9.6" fill="#000" stroke="#000" stroke-width="0.18">2 Dec 2019</text>
<rect x="636" y="926" width="1" height="3" fill="#000"/>
<text transform="translate(635,938) scale(0.975,1)" font-size="9.6" fill="#000" stroke="#000" stroke-width="0.18">12 Dec 2019</text>
<rect x="700" y="926" width="1" height="3" fill="#000"/>
<text transform="translate(699,938) scale(0.975,1)" font-size="9.6" fill="#000" stroke="#000" stroke-width="0.18">24 Dec 2019</text>
<rect x="764" y="926" width="1" height="3" fill="#000"/>
<text transform="translate(763,938) scale(0.975,1)" font-size="9.6" fill="#000" stroke="#000" stroke-width="0.18">8 Jan 2020</text>
<rect x="828" y="926" width="1" height="3" fill="#000"/>
<text transform="translate(827,938) scale(0.975,1)" font-size="9.6" fill="#000" stroke="#000" stroke-width="0.18">20 Jan 2020</text>
<rect x="892" y="926" width="1" height="3" fill="#000"/>
<text transform="translate(891,938) scale(0.975,1)" font-size="9.6" fill="#000" stroke="#000" stroke-width="0.18">3 Feb 2020</text>
<rect x="956" y="926" width="1" height="3" fill="#000"/>
<text transform="translate(955,938) scale(0.975,1)" font-size="9.6" fill="#000" stroke="#000" stroke-width="0.18">13 Feb 2020</text>
<rect x="1020" y="926" width="1" height="3" fill="#000"/>
<text transform="translate(1019,938) scale(0.975,1)" font-size="9.6" fill="#000" stroke="#000" stroke-width="0.18">25 Feb 2020</text>
<rect x="1084" y="926" width="1" height="3" fill="#000"/>
<text transform="translate(1083,938) scale(0.975,1)" font-size="9.6" fill="#000" stroke="#000" stroke-width="0.18">6 Mar 2020</text>
<rect x="1148" y="926" width="1" height="3" fill="#000"/>
<text transform="translate(1147,938) scale(0.975,1)" font-size="9.6" fill="#000" stroke="#000" stroke-width="0.18">18 Mar 2020</text>
<rect x="1212" y="926" width="1" height="3" fill="#000"/>
<text transform="translate(1211,938) scale(0.975,1)" font-size="9.6" fill="#000" stroke="#000" stroke-width="0.18">30 Mar 2020</text>
<rect x="1276" y="926" width="1" height="3" fill="#000"/>
<text transform="translate(1275,938) scale(0.975,1)" font-size="9.6" fill="#000" stroke="#000" stroke-width="0.18">9 Apr 2020</text>
<rect x="1340" y="926" width="1" height="3" fill="#000"/>
<text transform="translate(1339,938) scale(0.975,1)" font-size="9.6" fill="#000" stroke="#000" stroke-width="0.18">23 Apr 2020</text>
<rect x="1404" y="926" width="1" height="3" fill="#000"/>
<text transform="translate(1403,938) scale(0.975,1)" font-size="9.6" fill="#000" stroke="#000" stroke-width="0.18">7 May 2020</text>
<g shape-rendering="auto">
<rect x="0" y="0" width="1681" height="20" fill="#F0F0F0"/>
<rect x="0" y="19" width="1681" height="1" fill="#DADADA"/>
<rect x="0" y="20" width="1681" height="1" fill="#A0A0A0"/>
<rect x="0" y="21" width="1681" height="1" fill="#6A6A6A"/>
<rect x="1679" y="22" width="1" height="922" fill="#F6F6F6"/><rect x="1680" y="22" width="1" height="922" fill="#E2E2E2"/>
<g shape-rendering="auto">
<path d="M5.5,-1 V13.5 H16.5 V3.5 L13.5,0.5 V-1 Z" fill="#fff" stroke="#7A7A7A" stroke-width="1"/>
<path d="M13.5,0 V3.5 H16.5" fill="none" stroke="#8C8C8C" stroke-width="1"/>
<rect x="7.5" y="3.0" width="5" height="1" fill="#8A8A8A"/>
<rect x="7.5" y="5.0" width="5" height="1" fill="#8A8A8A"/>
<rect x="7.5" y="7.0" width="5" height="1" fill="#8A8A8A"/>
<rect x="7.5" y="9.0" width="5" height="1" fill="#8A8A8A"/>
<path d="M13.5,6.5 h3.6 v3.9 h4 v3.6 h-4 v3.9 h-3.6 v-3.9 h-4 v-3.6 h4 z" fill="#22C422" stroke="#0E7A0E" stroke-width="0.8"/>
<text x="24" y="11.2" font-size="12" fill="#000" textLength="35.8" lengthAdjust="spacingAndGlyphs" style="font-family:'Liberation Sans','Noto Sans CJK SC',sans-serif">新订单</text>
<defs><linearGradient id="gd" x1="0.2" y1="0" x2="0.6" y2="1"><stop offset="0" stop-color="#F4CC3A"/><stop offset="1" stop-color="#C8860E"/></linearGradient></defs>
<polygon points="77.5,1 88,8.6 80.7,15.8 72,9.6" fill="url(#gd)" stroke="#A86A10" stroke-width="1"/>
<polygon points="78,2.5 86,8.4 80.6,13 74.5,8.8" fill="#F6D24A" opacity="0.7"/>
<line x1="80.7" y1="15.8" x2="88" y2="10.2" stroke="#A86A10" stroke-width="1"/>
<rect x="102.2" y="-1" width="10.7" height="10" fill="#2A8EEA"/>
<polygon points="102.2,-1 106.2,-1 106.2,9 102.2,9" fill="#52AEF6"/>
<rect x="105.9" y="-1" width="0.6" height="10" fill="#E8F4FF"/>
<rect x="107.4" y="4.8" width="4.2" height="1.3" fill="#E6F2FF"/>
<defs><linearGradient id="cl" x1="0" y1="0" x2="0" y2="1"><stop offset="0" stop-color="#FFFFFF"/><stop offset="1" stop-color="#C8D4E8"/></linearGradient></defs>
<path d="M103.2,15.4 C99.6,15.4 99.4,10.8 102.8,10.3 C102.6,8 106.6,7.2 108,9.4 C109.8,7.6 112.8,8.6 112.8,10.6 C116.4,10.4 116.8,15.4 113.4,15.4 Z" fill="url(#cl)" stroke="#5A74A8" stroke-width="0.9"/>
<defs><radialGradient id="sg" cx="0.5" cy="0.5" r="0.5"><stop offset="0" stop-color="#FFFFFF" stop-opacity="0.2"/><stop offset="0.6" stop-color="#9CCB9C" stop-opacity="0.7"/><stop offset="1" stop-color="#5A9E62" stop-opacity="0.9"/></radialGradient></defs>
<path d="M136.2,7.9 L136.2,-0.2 A8.1,8.1 0 0 1 137.6,15.9 Z" fill="url(#sg)"/>
<path d="M136.2,15.600000000000001 A7.7,7.7 0 0 1 136.2,0.20000000000000018" fill="none" stroke="#3C66D0" stroke-width="1.1" opacity="0.55"/>
<path d="M136.2,0.20000000000000018 A7.7,7.7 0 0 1 138.1,15.4" fill="none" stroke="#4E9A58" stroke-width="1.1" opacity="0.55"/>
<path d="M136.2,13.3 A5.4,5.4 0 0 1 136.2,2.5" fill="none" stroke="#3C66D0" stroke-width="1.1" opacity="0.75"/>
<path d="M136.2,2.5 A5.4,5.4 0 0 1 137.5,13.1" fill="none" stroke="#4E9A58" stroke-width="1.1" opacity="0.75"/>
<path d="M136.2,11.100000000000001 A3.2,3.2 0 0 1 136.2,4.7" fill="none" stroke="#3C66D0" stroke-width="1.1" opacity="0.9"/>
<path d="M136.2,4.7 A3.2,3.2 0 0 1 137.0,11.0" fill="none" stroke="#4E9A58" stroke-width="1.1" opacity="0.9"/>
<circle cx="136.2" cy="7.6" r="1.9" fill="#2850C8"/>
<rect x="135.9" y="8" width="1.5" height="7.8" fill="#1EAE1E"/>
<defs><linearGradient id="yf" x1="0" y1="0" x2="1" y2="1"><stop offset="0" stop-color="#FBE88A"/><stop offset="1" stop-color="#E2B020"/></linearGradient></defs>
<polygon points="155.6,7.6 170.3,6.4 164.4,15.7 162.8,15.6" fill="url(#yf)" stroke="#C49416" stroke-width="0.7"/>
<path d="M155.2,4.8 C156.6,2.6 160,3.2 160.8,0.6 C161.4,-1.2 164.6,-1.2 165.2,0.6 C166,3.2 169.8,2.4 171.2,4.2 C170,8 157,8.4 155.2,4.8 Z" fill="#62B2E6" stroke="#2A7CB6" stroke-width="0.8"/>
<path d="M157,5.2 C160,6.8 166.5,6.6 169.6,4.8" fill="none" stroke="#2A7CB6" stroke-width="0.7"/>
<circle cx="167.4" cy="11.7" r="4.2" fill="#DE2410"/>
<circle cx="167.4" cy="11.7" r="4.2" fill="none" stroke="#B01808" stroke-width="0.6"/>
<rect x="165.8" y="10.1" width="3.3" height="3.3" fill="#fff"/>
<text x="176.5" y="11.2" font-size="12" fill="#000" textLength="47.1" lengthAdjust="spacingAndGlyphs" style="font-family:'Liberation Sans','Noto Sans CJK SC',sans-serif">自动交易</text>
</g>
<rect x="231" y="0" width="1" height="18" fill="#A0A0A0" shape-rendering="crispEdges"/>
<rect x="232" y="0" width="1" height="18" fill="#FFFFFF" shape-rendering="crispEdges"/>
<rect x="235" y="0" width="3" height="1" fill="#A8A8A8" shape-rendering="crispEdges"/>
<rect x="235" y="2" width="3" height="1" fill="#A8A8A8" shape-rendering="crispEdges"/>
<rect x="235" y="4" width="3" height="1" fill="#A8A8A8" shape-rendering="crispEdges"/>
<rect x="235" y="6" width="3" height="1" fill="#A8A8A8" shape-rendering="crispEdges"/>
<rect x="235" y="8" width="3" height="1" fill="#A8A8A8" shape-rendering="crispEdges"/>
<rect x="235" y="10" width="3" height="1" fill="#A8A8A8" shape-rendering="crispEdges"/>
<rect x="235" y="12" width="3" height="1" fill="#A8A8A8" shape-rendering="crispEdges"/>
<rect x="235" y="14" width="3" height="1" fill="#A8A8A8" shape-rendering="crispEdges"/>
<rect x="235" y="16" width="3" height="1" fill="#A8A8A8" shape-rendering="crispEdges"/>
<g shape-rendering="crispEdges"><rect x="249" y="3" width="1" height="13" fill="#505050"/><rect x="247" y="13" width="13" height="1" fill="#505050"/></g>
<polygon points="249.5,1.5 251.5,4.5 247.5,4.5" fill="#505050"/>
<polygon points="261.5,13.5 258.5,11.5 258.5,15.5" fill="#505050"/>
<g fill="#1E9E1E"><rect x="255" y="3" width="1.5" height="9"/><rect x="252.5" y="10" width="3" height="1.6"/><rect x="256" y="3" width="2.6" height="1.6"/></g>
<rect x="269" y="0" width="1" height="18" fill="#A0A0A0" shape-rendering="crispEdges"/>
<rect x="270" y="0" width="1" height="18" fill="#FFFFFF" shape-rendering="crispEdges"/>
<g shape-rendering="crispEdges"><rect x="270" y="0" width="24" height="18" fill="#F7F7F7"/><rect x="269" y="0" width="1" height="19" fill="#909090"/><rect x="270" y="18" width="25" height="1" fill="#FFFFFF"/><rect x="294" y="0" width="1" height="19" fill="#FFFFFF"/></g>
<g shape-rendering="crispEdges"><rect x="278" y="3" width="1" height="13" fill="#505050"/><rect x="276" y="13" width="13" height="1" fill="#505050"/></g>
<polygon points="278.5,1.5 280.5,4.5 276.5,4.5" fill="#505050"/>
<polygon points="290.5,13.5 287.5,11.5 287.5,15.5" fill="#505050"/>
<g shape-rendering="crispEdges"><rect x="283" y="0" width="1" height="12" fill="#107010"/><rect x="281.5" y="2.5" width="4" height="7" fill="#30D030" stroke="#107010" stroke-width="1"/></g>
<g shape-rendering="crispEdges"><rect x="305" y="3" width="1" height="13" fill="#505050"/><rect x="303" y="13" width="13" height="1" fill="#505050"/></g>
<polygon points="305.5,1.5 307.5,4.5 303.5,4.5" fill="#505050"/>
<polygon points="317.5,13.5 314.5,11.5 314.5,15.5" fill="#505050"/>
<path d="M305,11 C307,8 309,4.5 311,4.5 C313,4.5 315,7 316.5,9" fill="none" stroke="#1E9E1E" stroke-width="1.3"/>
<rect x="326" y="0" width="1" height="18" fill="#A0A0A0" shape-rendering="crispEdges"/>
<rect x="327" y="0" width="1" height="18" fill="#FFFFFF" shape-rendering="crispEdges"/>
<line x1="345.2" y1="10" x2="350.2" y2="14.4" stroke="#A87810" stroke-width="3.4" stroke-linecap="butt"/>
<line x1="345.2" y1="10" x2="350.2" y2="14.4" stroke="#ECC828" stroke-width="2.2" stroke-linecap="butt"/>
<circle cx="341" cy="5.6" r="5.5" fill="#D6EEFC" stroke="#2C7ACC" stroke-width="1.2"/>
<rect x="337.8" y="4.9" width="6.4" height="1.5" fill="#3C8CBC"/>
<rect x="340.25" y="2.4" width="1.5" height="6.4" fill="#3C8CBC"/>
<line x1="373.0" y1="10" x2="378.0" y2="14.4" stroke="#A87810" stroke-width="3.4" stroke-linecap="butt"/>
<line x1="373.0" y1="10" x2="378.0" y2="14.4" stroke="#ECC828" stroke-width="2.2" stroke-linecap="butt"/>
<circle cx="368.8" cy="5.6" r="5.5" fill="#D6EEFC" stroke="#2C7ACC" stroke-width="1.2"/>
<rect x="365.6" y="4.9" width="6.4" height="1.5" fill="#3C8CBC"/>
<rect x="391.3" y="-0.1" width="7.5" height="7.6" fill="#3A9A22"/>
<rect x="392.1" y="0.7000000000000001" width="0.9" height="0.9" fill="#fff" opacity="0.8"/>
<rect x="392.2" y="2.9" width="5.8" height="4" rx="0.6" fill="#fff" opacity="0.95"/>
<rect x="393.1" y="4.1000000000000005" width="4" height="0.9" fill="#A8DC90"/>
<rect x="393.6" y="6.1000000000000005" width="3" height="0.9" fill="#3A9A22"/>
<rect x="399.4" y="-0.1" width="7.5" height="7.6" fill="#2456CC"/>
<rect x="400.2" y="0.7000000000000001" width="0.9" height="0.9" fill="#fff" opacity="0.8"/>
<rect x="400.29999999999995" y="2.9" width="5.8" height="4" rx="0.6" fill="#fff" opacity="0.95"/>
<rect x="401.2" y="4.1000000000000005" width="4" height="0.9" fill="#9CB4F0"/>
<rect x="401.7" y="6.1000000000000005" width="3" height="0.9" fill="#2456CC"/>
<rect x="391.3" y="8.1" width="7.5" height="7.6" fill="#2456CC"/>
<rect x="392.1" y="8.9" width="0.9" height="0.9" fill="#fff" opacity="0.8"/>
<rect x="392.2" y="11.1" width="5.8" height="4" rx="0.6" fill="#fff" opacity="0.95"/>
<rect x="393.1" y="12.3" width="4" height="0.9" fill="#9CB4F0"/>
<rect x="393.6" y="14.3" width="3" height="0.9" fill="#2456CC"/>
<rect x="399.4" y="8.1" width="7.5" height="7.6" fill="#3A9A22"/>
<rect x="400.2" y="8.9" width="0.9" height="0.9" fill="#fff" opacity="0.8"/>
<rect x="400.29999999999995" y="11.1" width="5.8" height="4" rx="0.6" fill="#fff" opacity="0.95"/>
<rect x="401.2" y="12.3" width="4" height="0.9" fill="#A8DC90"/>
<rect x="401.7" y="14.3" width="3" height="0.9" fill="#3A9A22"/>
<rect x="416" y="0" width="1" height="18" fill="#A0A0A0" shape-rendering="crispEdges"/>
<rect x="417" y="0" width="1" height="18" fill="#FFFFFF" shape-rendering="crispEdges"/>
<g shape-rendering="crispEdges"><rect x="422" y="0" width="24" height="18" fill="#F7F7F7"/><rect x="421" y="0" width="1" height="19" fill="#909090"/><rect x="422" y="18" width="25" height="1" fill="#FFFFFF"/><rect x="446" y="0" width="1" height="19" fill="#FFFFFF"/></g>
<g shape-rendering="crispEdges"><rect x="429" y="3" width="1" height="13" fill="#505050"/><rect x="427" y="13" width="13" height="1" fill="#505050"/></g>
<polygon points="429.5,1.5 431.5,4.5 427.5,4.5" fill="#505050"/>
<polygon points="441.5,13.5 438.5,11.5 438.5,15.5" fill="#505050"/>
<polygon points="434.4,4.3 438,7.5 434.4,10.7" fill="#58E058" stroke="#109010" stroke-width="0.8"/>
<g shape-rendering="crispEdges"><rect x="450" y="0" width="24" height="18" fill="#F7F7F7"/><rect x="449" y="0" width="1" height="19" fill="#909090"/><rect x="450" y="18" width="25" height="1" fill="#FFFFFF"/><rect x="474" y="0" width="1" height="19" fill="#FFFFFF"/></g>
<g shape-rendering="crispEdges"><rect x="457" y="3" width="1" height="13" fill="#505050"/><rect x="455" y="13" width="13" height="1" fill="#505050"/></g>
<polygon points="457.5,1.5 459.5,4.5 455.5,4.5" fill="#505050"/>
<polygon points="469.5,13.5 466.5,11.5 466.5,15.5" fill="#505050"/>
<rect x="463" y="2" width="1.3" height="10" fill="#1464A4"/>
<polygon points="464.4,7.5 467.6,5 467,7 469.2,7 469.2,8 467,8 467.6,10" fill="#DC4A0C"/>
<rect x="478" y="0" width="1" height="18" fill="#A0A0A0" shape-rendering="crispEdges"/>
<rect x="479" y="0" width="1" height="18" fill="#FFFFFF" shape-rendering="crispEdges"/>
<g shape-rendering="auto">
<path d="M488.5,-1 V13.5 H499.5 V3.5 L496.5,0.5 V-1 Z" fill="#fff" stroke="#7A7A7A" stroke-width="1"/>
<path d="M496.5,0 V3.5 H499.5" fill="none" stroke="#8C8C8C" stroke-width="1"/>
<rect x="490.5" y="3.0" width="5" height="1" fill="#8A8A8A"/>
<rect x="490.5" y="5.0" width="5" height="1" fill="#8A8A8A"/>
<rect x="490.5" y="7.0" width="5" height="1" fill="#8A8A8A"/>
<rect x="490.5" y="9.0" width="5" height="1" fill="#8A8A8A"/>
<path d="M496.5,6.5 h3.6 v3.9 h4 v3.6 h-4 v3.9 h-3.6 v-3.9 h-4 v-3.6 h4 z" fill="#22C422" stroke="#0E7A0E" stroke-width="0.8"/>
</g>
<polygon points="510,7 515,7 512.5,10" fill="#000"/>
<circle cx="534.2" cy="7.5" r="7.3" fill="#2E78D2" stroke="#1C50A0" stroke-width="0.8"/>
<circle cx="534.2" cy="7.5" r="5" fill="#F4F8FC"/>
<path d="M534.2,4 V7.8 H537" fill="none" stroke="#404040" stroke-width="1"/>
<circle cx="532.2" cy="3.6" r="2.2" fill="#fff" opacity="0.35"/>
<polygon points="549,7 554,7 551.5,10" fill="#000"/>
<rect x="565.5" y="1.5" width="15" height="12.5" fill="#fff" stroke="#3C78D0" stroke-width="1.2"/>
<rect x="565.5" y="1.5" width="15" height="2" fill="#3C78D0"/>
<rect x="566" y="8" width="14" height="1" fill="#9CB8E0"/>
<path d="M567.5,7 L570,6 L572,6.5 L575,5 L578.5,5" fill="none" stroke="#C83020" stroke-width="1.1"/>
<path d="M567.5,12 L570,11.5 L572,12 L575,10.3 L578.5,11.5" fill="none" stroke="#20A020" stroke-width="1.1"/>
<polygon points="588,7 593,7 590.5,10" fill="#000"/>
<rect x="599" y="0" width="1" height="18" fill="#A0A0A0" shape-rendering="crispEdges"/>
<rect x="600" y="0" width="1" height="18" fill="#FFFFFF" shape-rendering="crispEdges"/>
<rect x="603" y="0" width="3" height="1" fill="#A8A8A8" shape-rendering="crispEdges"/>
<rect x="603" y="2" width="3" height="1" fill="#A8A8A8" shape-rendering="crispEdges"/>
<rect x="603" y="4" width="3" height="1" fill="#A8A8A8" shape-rendering="crispEdges"/>
<rect x="603" y="6" width="3" height="1" fill="#A8A8A8" shape-rendering="crispEdges"/>
<rect x="603" y="8" width="3" height="1" fill="#A8A8A8" shape-rendering="crispEdges"/>
<rect x="603" y="10" width="3" height="1" fill="#A8A8A8" shape-rendering="crispEdges"/>
<rect x="603" y="12" width="3" height="1" fill="#A8A8A8" shape-rendering="crispEdges"/>
<rect x="603" y="14" width="3" height="1" fill="#A8A8A8" shape-rendering="crispEdges"/>
<rect x="603" y="16" width="3" height="1" fill="#A8A8A8" shape-rendering="crispEdges"/>
<g shape-rendering="crispEdges"><rect x="610" y="0" width="24" height="18" fill="#F7F7F7"/><rect x="609" y="0" width="1" height="19" fill="#909090"/><rect x="610" y="18" width="25" height="1" fill="#FFFFFF"/><rect x="634" y="0" width="1" height="19" fill="#FFFFFF"/></g>
<path d="M616.8,1 L616.8,12.5 L619.4,10 L621.6,14.8 L623.4,14 L621.3,9.3 L625,9 Z" fill="#383838"/>
<g shape-rendering="crispEdges" fill="#404040"><rect x="642" y="8" width="6" height="1"/><rect x="652" y="8" width="6" height="1"/><rect x="649" y="1" width="1" height="6"/><rect x="649" y="10" width="1" height="6"/><rect x="649" y="8" width="1" height="1"/></g>
<rect x="666" y="0" width="1" height="18" fill="#A0A0A0" shape-rendering="crispEdges"/>
<rect x="667" y="0" width="1" height="18" fill="#FFFFFF" shape-rendering="crispEdges"/>
<rect x="683" y="2" width="1" height="13" fill="#404040" shape-rendering="crispEdges"/>
<rect x="706" y="8" width="12" height="1" fill="#404040" shape-rendering="crispEdges"/>
<line x1="733.7" y1="14.7" x2="746.3" y2="2.6" stroke="#505050" stroke-width="1.1"/>
<g stroke="#505050" stroke-width="1" fill="none"><line x1="760" y1="9" x2="772" y2="2"/><line x1="761" y1="14.5" x2="773" y2="7.5"/><line x1="762.5" y1="7" x2="763.5" y2="13.5"/><line x1="765.5" y1="5.5" x2="766.5" y2="11.5"/><line x1="768.5" y1="3.5" x2="769.5" y2="10"/><line x1="771.5" y1="0" x2="772.5" y2="8"/></g>
<text x="771" y="17" font-size="6.5" font-weight="bold" fill="#303030">E</text>
<line x1="789" y1="1.5" x2="803" y2="1.5" stroke="#505050" stroke-width="1" stroke-dasharray="1 1" shape-rendering="crispEdges"/>
<line x1="789" y1="5.5" x2="803" y2="5.5" stroke="#505050" stroke-width="1" stroke-dasharray="1 1" shape-rendering="crispEdges"/>
<line x1="789" y1="9.5" x2="803" y2="9.5" stroke="#505050" stroke-width="1" stroke-dasharray="1 1" shape-rendering="crispEdges"/>
<line x1="789" y1="12.5" x2="797" y2="12.5" stroke="#505050" stroke-width="1" stroke-dasharray="1 1" shape-rendering="crispEdges"/>
<text x="798.5" y="17" font-size="6.5" font-weight="bold" fill="#303030">F</text>
<text x="818.8" y="13.5" font-size="13" font-weight="bold" fill="#686868" textLength="9.5" lengthAdjust="spacingAndGlyphs">A</text>
<rect x="846.5" y="2.5" width="11" height="11.5" fill="none" stroke="#606060" stroke-width="1" stroke-dasharray="1 1" shape-rendering="crispEdges"/>
<text x="848" y="13" font-size="12" font-weight="bold" fill="#606060" textLength="8.5" lengthAdjust="spacingAndGlyphs">T</text>
<g fill="#404040"><polygon points="876.5,2 880,5.5 873,5.5"/><polygon points="873,6.5 880,6.5 876.5,9"/><polygon points="880.5,11.5 887.5,11.5 884,15"/><polygon points="884,7.5 887.5,10.5 880.5,10.5"/><path d="M878,9 L880,11 L883,6.5" fill="none" stroke="#404040" stroke-width="1.2"/></g>
<polygon points="894,7 899,7 896.5,10" fill="#000"/>
<rect x="905" y="0" width="1" height="18" fill="#A0A0A0" shape-rendering="crispEdges"/>
<rect x="906" y="0" width="1" height="18" fill="#FFFFFF" shape-rendering="crispEdges"/>
<rect x="909" y="0" width="3" height="1" fill="#A8A8A8" shape-rendering="crispEdges"/>
<rect x="909" y="2" width="3" height="1" fill="#A8A8A8" shape-rendering="crispEdges"/>
<rect x="909" y="4" width="3" height="1" fill="#A8A8A8" shape-rendering="crispEdges"/>
<rect x="909" y="6" width="3" height="1" fill="#A8A8A8" shape-rendering="crispEdges"/>
<rect x="909" y="8" width="3" height="1" fill="#A8A8A8" shape-rendering="crispEdges"/>
<rect x="909" y="10" width="3" height="1" fill="#A8A8A8" shape-rendering="crispEdges"/>
<rect x="909" y="12" width="3" height="1" fill="#A8A8A8" shape-rendering="crispEdges"/>
<rect x="909" y="14" width="3" height="1" fill="#A8A8A8" shape-rendering="crispEdges"/>
<rect x="909" y="16" width="3" height="1" fill="#A8A8A8" shape-rendering="crispEdges"/>
<g shape-rendering="crispEdges"><rect x="1084" y="0" width="24" height="18" fill="#F7F7F7"/><rect x="1083" y="0" width="1" height="19" fill="#909090"/><rect x="1084" y="18" width="25" height="1" fill="#FFFFFF"/><rect x="1108" y="0" width="1" height="19" fill="#FFFFFF"/></g>
<text x="927" y="11.7" font-size="9.4" fill="#3C3C3C" text-anchor="middle" textLength="13" lengthAdjust="spacingAndGlyphs">M1</text>
<text x="955" y="11.7" font-size="9.4" fill="#3C3C3C" text-anchor="middle" textLength="12.5" lengthAdjust="spacingAndGlyphs">M5</text>
<text x="983.5" y="11.7" font-size="9.4" fill="#3C3C3C" text-anchor="middle" textLength="17" lengthAdjust="spacingAndGlyphs">M15</text>
<text x="1011.4" y="11.7" font-size="9.4" fill="#3C3C3C" text-anchor="middle" textLength="17.2" lengthAdjust="spacingAndGlyphs">M30</text>
<text x="1039.5" y="11.7" font-size="9.4" fill="#3C3C3C" text-anchor="middle" textLength="11" lengthAdjust="spacingAndGlyphs">H1</text>
<text x="1066.7" y="11.7" font-size="9.4" fill="#3C3C3C" text-anchor="middle" textLength="12" lengthAdjust="spacingAndGlyphs">H4</text>
<text x="1095.5" y="11.7" font-size="9.4" fill="#3C3C3C" text-anchor="middle" textLength="11.6" lengthAdjust="spacingAndGlyphs">D1</text>
<text x="1124" y="11.7" font-size="9.4" fill="#3C3C3C" text-anchor="middle" textLength="13.7" lengthAdjust="spacingAndGlyphs">W1</text>
<text x="1151.2" y="11.7" font-size="9.4" fill="#3C3C3C" text-anchor="middle" textLength="14.4" lengthAdjust="spacingAndGlyphs">MN</text>
<rect x="1166" y="0" width="1" height="18" fill="#A0A0A0" shape-rendering="crispEdges"/>
<rect x="1167" y="0" width="1" height="18" fill="#FFFFFF" shape-rendering="crispEdges"/>
<line x1="1633.6" y1="8.2" x2="1628.8" y2="12.6" stroke="#2A52C8" stroke-width="2.4" stroke-linecap="round"/>
<circle cx="1636.6" cy="5.2" r="3.9" fill="#F6F8FF" stroke="#2A52C8" stroke-width="1.3"/>
<path d="M1670.5,9.5 C1675,9.5 1676.2,6.5 1676,4.5 C1675.8,1.5 1673,-0.5 1669.5,-0.5 C1665.5,-0.5 1662.8,1.5 1662.8,4.8 C1662.8,7.5 1665,9.5 1668.5,9.6 L1671.5,9.5 L1672.6,11.6 Z" fill="#EEF0F6" stroke="#A4A4A8" stroke-width="1"/>
<path d="M1660,13 C1664,13 1665.6,10.5 1665.4,8.8 C1665.2,6.5 1663,5.2 1660,5.2 C1657,5.2 1655,6.8 1655,9 C1655,11.3 1656.5,12.6 1658.2,13 L1657.8,15 Z" fill="#E6E8F0" stroke="#A4A4A8" stroke-width="1"/>
<defs>
<linearGradient id="gt" x1="0" y1="0" x2="0" y2="1"><stop offset="0" stop-color="#F45454"/><stop offset="1" stop-color="#DC2C2C"/></linearGradient>
<linearGradient id="gb" x1="0" y1="0" x2="0" y2="1"><stop offset="0" stop-color="#DA2A2A"/><stop offset="1" stop-color="#A80404"/></linearGradient>
<filter id="thin" x="-10%" y="-10%" width="120%" height="120%"><feMorphology operator="erode" radius="0.45"/></filter>
<linearGradient id="gs" x1="0" y1="0" x2="0" y2="1"><stop offset="0" stop-color="#F4F4F4"/><stop offset="0.5" stop-color="#E2E2E2"/><stop offset="1" stop-color="#CFCFCF"/></linearGradient>
</defs>
<g shape-rendering="crispEdges">
<rect x="0" y="44" width="51" height="25" fill="url(#gt)"/>
<rect x="166" y="44" width="52" height="25" fill="url(#gt)"/>
<rect x="0" y="68" width="108" height="40" fill="url(#gb)"/>
<rect x="110" y="68" width="108" height="40" fill="url(#gb)"/>
<rect x="3" y="67" width="44" height="1" fill="#F07878"/>
<rect x="170" y="67" width="44" height="1" fill="#F07878"/>
<rect x="51" y="44" width="115" height="24" fill="#fff"/>
<rect x="53.5" y="44.5" width="110" height="21" fill="#fff" stroke="#ABABAB" stroke-width="1"/>
<rect x="54" y="45" width="20" height="20" fill="url(#gs)"/><rect x="74" y="45" width="1" height="20" fill="#ABABAB"/>
<rect x="143" y="45" width="20" height="20" fill="url(#gs)"/><rect x="142" y="45" width="1" height="20" fill="#ABABAB"/>
</g>
<polygon points="60.5,53.5 65.5,53.5 63,56.5" fill="#4858B8"/>
<polygon points="150,56 155,56 152.5,53" fill="#4858B8"/>
<text x="138.5" y="59.6" font-size="13" fill="#101840" text-anchor="end" textLength="23" lengthAdjust="spacingAndGlyphs">1.00</text>
<text x="11.5" y="60.3" font-size="12.5" fill="#fff" textLength="25.5" lengthAdjust="spacingAndGlyphs">SELL</text>
<text x="179.5" y="60.3" font-size="12.5" fill="#fff" textLength="22.5" lengthAdjust="spacingAndGlyphs">BUY</text>
<text x="15" y="99" font-size="11.5" font-weight="bold" fill="#fff" textLength="34" lengthAdjust="spacingAndGlyphs">23845</text>
<text x="125.2" y="99" font-size="11.5" font-weight="bold" fill="#fff" textLength="34" lengthAdjust="spacingAndGlyphs">23861</text>
<rect x="54.8" y="95.2" width="3.4" height="3.2" rx="0.8" fill="#fff"/><rect x="165.8" y="95.2" width="3.4" height="3.2" rx="0.8" fill="#fff"/>
<text x="61" y="98.3" font-size="32" fill="#fff" textLength="15.5" lengthAdjust="spacingAndGlyphs" filter="url(#thin)">5</text>
<text x="172" y="98.3" font-size="32" fill="#fff" textLength="15.5" lengthAdjust="spacingAndGlyphs" filter="url(#thin)">5</text>
</g>
</svg>
</body></html>
